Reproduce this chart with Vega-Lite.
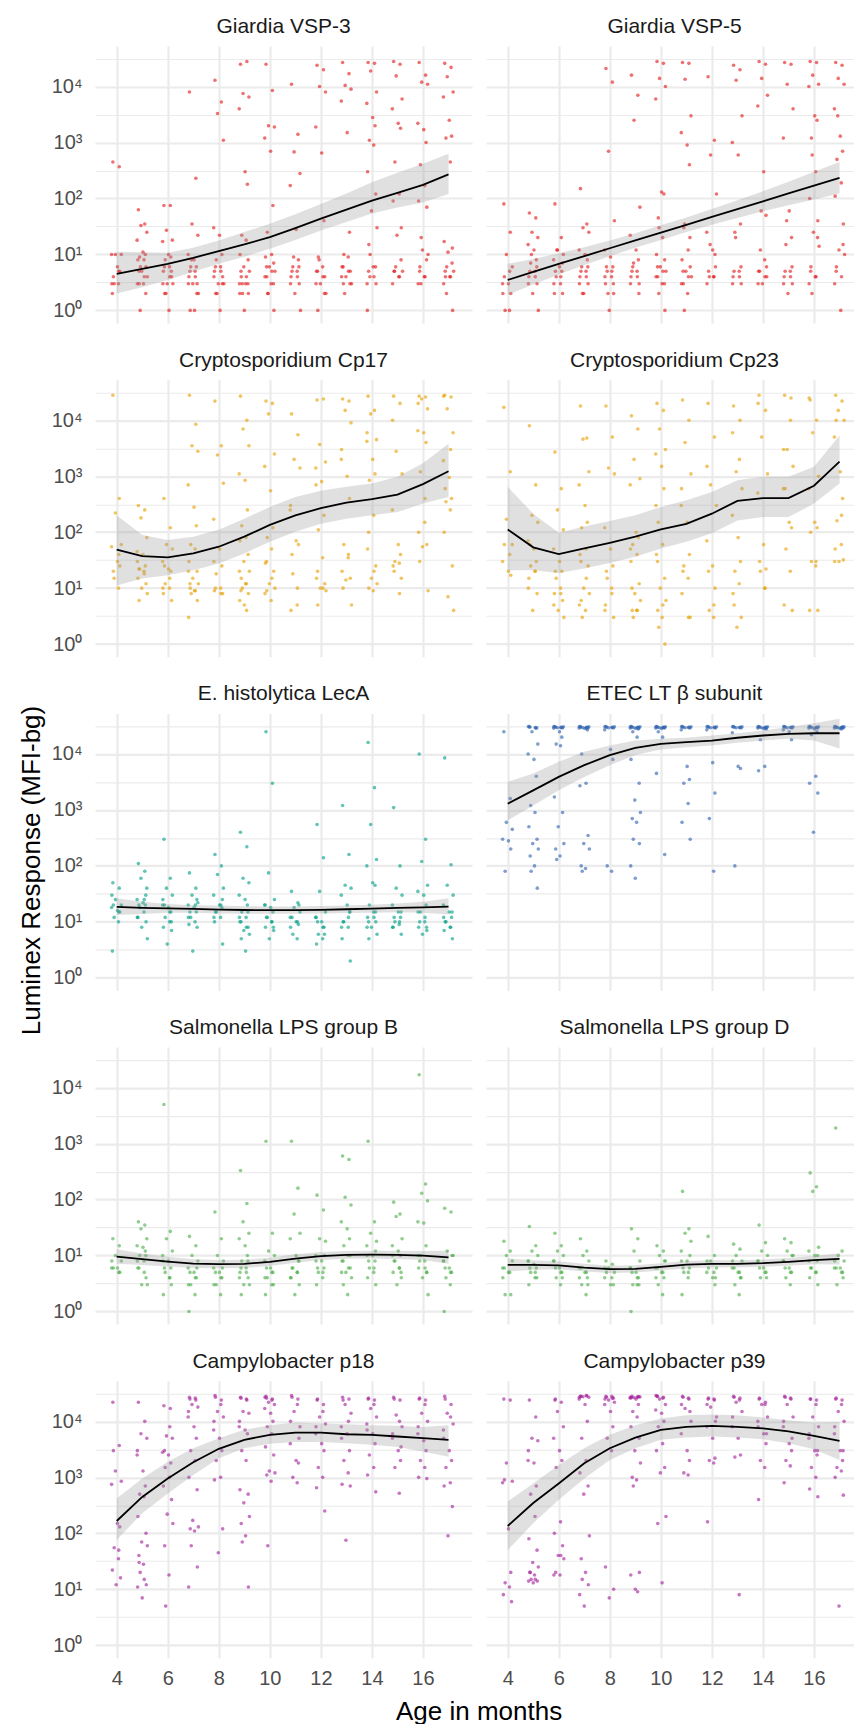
{
"$schema":"https://vega.github.io/schema/vega-lite/v6.json",
"background":"white",
"padding":{"left":19,"top":16,"right":0,"bottom":0},
"title":{"text":"Luminex Response (MFI-bg)","orient":"left","anchor":"middle","offset":6},
"vconcat":[{
"title":{"text":"Age in months","orient":"bottom","anchor":"middle","offset":11,"dx":22},
"data":{"values":[
{"k":1,"x":3.85,"y":450},{"k":1,"x":4.1,"y":370},{"k":1,"x":3.95,"y":10},{"k":1,"x":4.18,"y":10},{"k":1,"x":3.8,"y":10},{"k":1,"x":4.03,"y":6},{"k":1,"x":4.12,"y":5},{"k":1,"x":3.9,"y":3},{"k":1,"x":4.07,"y":3},{"k":1,"x":3.83,"y":2},
{"k":1,"x":4.85,"y":63},{"k":1,"x":5.1,"y":35},{"k":1,"x":4.95,"y":33},{"k":1,"x":5.18,"y":25},{"k":1,"x":4.8,"y":18},{"k":1,"x":5.03,"y":11},{"k":1,"x":5.12,"y":10},{"k":1,"x":4.9,"y":9},{"k":1,"x":5.07,"y":8},{"k":1,"x":4.83,"y":8},{"k":1,"x":5.15,"y":6},{"k":1,"x":4.98,"y":5},{"k":1,"x":5.2,"y":4},{"k":1,"x":4.88,"y":3},{"k":1,"x":5.05,"y":3},{"k":1,"x":4.92,"y":1},
{"k":1,"x":5.85,"y":75},{"k":1,"x":6.1,"y":75},{"k":1,"x":5.95,"y":27},{"k":1,"x":6.18,"y":18},{"k":1,"x":5.8,"y":17},{"k":1,"x":6.03,"y":10},{"k":1,"x":6.12,"y":9},{"k":1,"x":5.9,"y":8},{"k":1,"x":6.07,"y":6},{"k":1,"x":5.83,"y":5},{"k":1,"x":6.15,"y":4},{"k":1,"x":5.98,"y":3},{"k":1,"x":6.2,"y":3},{"k":1,"x":5.88,"y":2},{"k":1,"x":6.05,"y":1},
{"k":1,"x":6.85,"y":8000},{"k":1,"x":7.1,"y":230},{"k":1,"x":6.95,"y":35},{"k":1,"x":7.18,"y":22},{"k":1,"x":6.8,"y":10},{"k":1,"x":7.03,"y":8},{"k":1,"x":7.12,"y":6},{"k":1,"x":6.9,"y":6},{"k":1,"x":7.07,"y":5},{"k":1,"x":6.83,"y":4},{"k":1,"x":7.15,"y":3},{"k":1,"x":6.98,"y":3},{"k":1,"x":7.2,"y":2},{"k":1,"x":6.88,"y":1},{"k":1,"x":7.05,"y":1},
{"k":1,"x":7.85,"y":13000},{"k":1,"x":8.1,"y":5300},{"k":1,"x":7.95,"y":3300},{"k":1,"x":8.18,"y":1100},{"k":1,"x":7.8,"y":30},{"k":1,"x":8.03,"y":22},{"k":1,"x":8.12,"y":10},{"k":1,"x":7.9,"y":8},{"k":1,"x":8.07,"y":6},{"k":1,"x":7.83,"y":5},{"k":1,"x":8.15,"y":4},{"k":1,"x":7.98,"y":3},{"k":1,"x":8.2,"y":3},{"k":1,"x":7.88,"y":2},{"k":1,"x":8.05,"y":1},
{"k":1,"x":8.85,"y":25000},{"k":1,"x":9.1,"y":28000},{"k":1,"x":8.95,"y":7500},{"k":1,"x":9.18,"y":6500},{"k":1,"x":8.8,"y":4000},{"k":1,"x":9.03,"y":300},{"k":1,"x":9.12,"y":180},{"k":1,"x":8.9,"y":22},{"k":1,"x":9.07,"y":18},{"k":1,"x":8.83,"y":10},{"k":1,"x":9.15,"y":8},{"k":1,"x":8.98,"y":6},{"k":1,"x":9.2,"y":5},{"k":1,"x":8.88,"y":4},{"k":1,"x":9.05,"y":3},{"k":1,"x":8.92,"y":3},{"k":1,"x":9.16,"y":2},{"k":1,"x":8.82,"y":2},{"k":1,"x":9,"y":1},
{"k":1,"x":9.85,"y":25000},{"k":1,"x":10.1,"y":8500},{"k":1,"x":9.95,"y":2000},{"k":1,"x":10.18,"y":1900},{"k":1,"x":9.8,"y":1200},{"k":1,"x":10.03,"y":700},{"k":1,"x":10.12,"y":75},{"k":1,"x":9.9,"y":25},{"k":1,"x":10.07,"y":10},{"k":1,"x":9.83,"y":9},{"k":1,"x":10.15,"y":7},{"k":1,"x":9.98,"y":6},{"k":1,"x":10.2,"y":5},{"k":1,"x":9.88,"y":4},{"k":1,"x":10.05,"y":3},{"k":1,"x":9.92,"y":2},{"k":1,"x":10.16,"y":1},
{"k":1,"x":10.85,"y":11000},{"k":1,"x":11.1,"y":1400},{"k":1,"x":10.95,"y":680},{"k":1,"x":11.18,"y":280},{"k":1,"x":10.8,"y":170},{"k":1,"x":11.03,"y":28},{"k":1,"x":11.12,"y":8},{"k":1,"x":10.9,"y":6},{"k":1,"x":11.07,"y":5},{"k":1,"x":10.83,"y":4},{"k":1,"x":11.15,"y":3},{"k":1,"x":10.98,"y":2},{"k":1,"x":11.2,"y":1},
{"k":1,"x":11.85,"y":24000},{"k":1,"x":12.1,"y":20000},{"k":1,"x":11.95,"y":10000},{"k":1,"x":12.18,"y":8000},{"k":1,"x":11.8,"y":1900},{"k":1,"x":12.03,"y":650},{"k":1,"x":12.12,"y":40},{"k":1,"x":11.9,"y":9},{"k":1,"x":12.07,"y":6},{"k":1,"x":11.83,"y":5},{"k":1,"x":12.15,"y":4},{"k":1,"x":11.98,"y":3},{"k":1,"x":12.2,"y":2},{"k":1,"x":11.88,"y":1},
{"k":1,"x":12.85,"y":27000},{"k":1,"x":13.1,"y":17000},{"k":1,"x":12.95,"y":10500},{"k":1,"x":13.18,"y":9000},{"k":1,"x":12.8,"y":5500},{"k":1,"x":13.03,"y":1500},{"k":1,"x":13.12,"y":25},{"k":1,"x":12.9,"y":10},{"k":1,"x":13.07,"y":9},{"k":1,"x":12.83,"y":6},{"k":1,"x":13.15,"y":5},{"k":1,"x":12.98,"y":4},{"k":1,"x":13.2,"y":3},{"k":1,"x":12.88,"y":3},
{"k":1,"x":13.85,"y":27000},{"k":1,"x":14.1,"y":26000},{"k":1,"x":13.95,"y":19000},{"k":1,"x":14.18,"y":8000},{"k":1,"x":13.8,"y":5000},{"k":1,"x":14.03,"y":2800},{"k":1,"x":14.12,"y":2000},{"k":1,"x":13.9,"y":1100},{"k":1,"x":14.07,"y":900},{"k":1,"x":13.83,"y":300},{"k":1,"x":14.15,"y":120},{"k":1,"x":13.98,"y":60},{"k":1,"x":14.2,"y":30},{"k":1,"x":13.88,"y":15},{"k":1,"x":14.05,"y":6},{"k":1,"x":13.92,"y":4},{"k":1,"x":14.16,"y":3},{"k":1,"x":13.82,"y":1},
{"k":1,"x":14.85,"y":28000},{"k":1,"x":15.1,"y":25000},{"k":1,"x":14.95,"y":15500},{"k":1,"x":15.18,"y":6000},{"k":1,"x":14.8,"y":4000},{"k":1,"x":15.03,"y":2200},{"k":1,"x":15.12,"y":1800},{"k":1,"x":14.9,"y":450},{"k":1,"x":15.07,"y":120},{"k":1,"x":14.83,"y":90},{"k":1,"x":15.15,"y":30},{"k":1,"x":14.98,"y":22},{"k":1,"x":15.2,"y":5},{"k":1,"x":14.88,"y":5},{"k":1,"x":15.05,"y":4},
{"k":1,"x":15.85,"y":27000},{"k":1,"x":16.1,"y":16000},{"k":1,"x":15.95,"y":12000},{"k":1,"x":16.18,"y":11000},{"k":1,"x":15.8,"y":2200},{"k":1,"x":16.03,"y":1700},{"k":1,"x":16.12,"y":1000},{"k":1,"x":15.9,"y":400},{"k":1,"x":16.07,"y":170},{"k":1,"x":15.83,"y":90},{"k":1,"x":16.15,"y":70},{"k":1,"x":15.98,"y":12},{"k":1,"x":16.2,"y":10},{"k":1,"x":15.88,"y":6},{"k":1,"x":16.05,"y":4},{"k":1,"x":15.92,"y":3},
{"k":1,"x":16.85,"y":26000},{"k":1,"x":17.1,"y":22000},{"k":1,"x":16.95,"y":15000},{"k":1,"x":17.18,"y":8000},{"k":1,"x":16.8,"y":6500},{"k":1,"x":17.03,"y":2500},{"k":1,"x":17.12,"y":1300},{"k":1,"x":16.9,"y":1200},{"k":1,"x":17.07,"y":450},{"k":1,"x":16.83,"y":17},{"k":1,"x":17.15,"y":13},{"k":1,"x":16.98,"y":11},{"k":1,"x":17.2,"y":5},{"k":1,"x":16.88,"y":4},{"k":1,"x":17.05,"y":4},{"k":1,"x":16.92,"y":2},{"k":1,"x":17.16,"y":1},
{"k":1,"x":3.87,"y":4},{"k":1,"x":4.08,"y":5},{"k":1,"x":3.81,"y":3},
{"k":1,"x":4.87,"y":5},{"k":1,"x":5.08,"y":4},{"k":1,"x":4.81,"y":3},{"k":1,"x":5.14,"y":2},{"k":1,"x":4.93,"y":6},
{"k":1,"x":5.87,"y":6},{"k":1,"x":6.08,"y":4},{"k":1,"x":5.81,"y":3},{"k":1,"x":6.14,"y":5},{"k":1,"x":5.93,"y":2},
{"k":1,"x":6.87,"y":5},{"k":1,"x":7.08,"y":4},{"k":1,"x":6.81,"y":3},{"k":1,"x":7.14,"y":2},{"k":1,"x":6.93,"y":8},
{"k":1,"x":7.87,"y":6},{"k":1,"x":8.08,"y":5},{"k":1,"x":7.81,"y":4},{"k":1,"x":8.14,"y":3},{"k":1,"x":7.93,"y":2},
{"k":1,"x":8.87,"y":5},{"k":1,"x":9.08,"y":4},{"k":1,"x":8.81,"y":3},{"k":1,"x":9.14,"y":3},{"k":1,"x":8.93,"y":2},
{"k":1,"x":9.87,"y":6},{"k":1,"x":10.08,"y":5},{"k":1,"x":9.81,"y":4},{"k":1,"x":10.14,"y":3},{"k":1,"x":9.93,"y":2},
{"k":1,"x":10.87,"y":5},{"k":1,"x":11.08,"y":4},{"k":1,"x":10.81,"y":3},{"k":1,"x":11.14,"y":6},{"k":1,"x":10.93,"y":9},
{"k":1,"x":11.87,"y":5},{"k":1,"x":12.08,"y":4},{"k":1,"x":11.81,"y":3},{"k":1,"x":12.14,"y":2},{"k":1,"x":11.93,"y":8},
{"k":1,"x":12.87,"y":6},{"k":1,"x":13.08,"y":5},{"k":1,"x":12.81,"y":4},{"k":1,"x":13.14,"y":3},{"k":1,"x":12.93,"y":2},
{"k":1,"x":13.87,"y":5},{"k":1,"x":14.08,"y":4},{"k":1,"x":13.81,"y":3},{"k":1,"x":14.14,"y":6},{"k":1,"x":13.93,"y":10},
{"k":1,"x":14.87,"y":5},{"k":1,"x":15.08,"y":4},{"k":1,"x":14.81,"y":3},{"k":1,"x":15.14,"y":8},{"k":1,"x":14.93,"y":6},
{"k":1,"x":15.87,"y":5},{"k":1,"x":16.08,"y":4},{"k":1,"x":15.81,"y":3},{"k":1,"x":16.14,"y":8},{"k":1,"x":15.93,"y":20},
{"k":1,"x":16.87,"y":5},{"k":1,"x":17.08,"y":4},{"k":1,"x":16.81,"y":3},{"k":1,"x":17.14,"y":7},{"k":1,"x":16.93,"y":6},
{"k":2,"x":3.85,"y":80},{"k":2,"x":4.1,"y":25},{"k":2,"x":3.95,"y":10},{"k":2,"x":4.18,"y":6},{"k":2,"x":3.8,"y":3},{"k":2,"x":4.03,"y":3},{"k":2,"x":4.12,"y":2},{"k":2,"x":3.9,"y":1},{"k":2,"x":4.07,"y":1},
{"k":2,"x":4.85,"y":55},{"k":2,"x":5.1,"y":45},{"k":2,"x":4.95,"y":25},{"k":2,"x":5.18,"y":20},{"k":2,"x":4.8,"y":15},{"k":2,"x":5.03,"y":12},{"k":2,"x":5.12,"y":8},{"k":2,"x":4.9,"y":7},{"k":2,"x":5.07,"y":5},{"k":2,"x":4.83,"y":4},{"k":2,"x":5.15,"y":3},{"k":2,"x":4.98,"y":2},{"k":2,"x":5.2,"y":1},
{"k":2,"x":5.85,"y":80},{"k":2,"x":6.1,"y":20},{"k":2,"x":5.95,"y":12},{"k":2,"x":6.18,"y":10},{"k":2,"x":5.8,"y":8},{"k":2,"x":6.03,"y":6},{"k":2,"x":6.12,"y":5},{"k":2,"x":5.9,"y":4},{"k":2,"x":6.07,"y":3},{"k":2,"x":5.83,"y":2},{"k":2,"x":6.15,"y":2},
{"k":2,"x":6.85,"y":150},{"k":2,"x":7.1,"y":35},{"k":2,"x":6.95,"y":30},{"k":2,"x":7.18,"y":25},{"k":2,"x":6.8,"y":12},{"k":2,"x":7.03,"y":10},{"k":2,"x":7.12,"y":8},{"k":2,"x":6.9,"y":6},{"k":2,"x":7.07,"y":5},{"k":2,"x":6.83,"y":4},{"k":2,"x":7.15,"y":3},{"k":2,"x":6.98,"y":2},
{"k":2,"x":7.85,"y":21000},{"k":2,"x":8.1,"y":12000},{"k":2,"x":7.95,"y":700},{"k":2,"x":8.18,"y":40},{"k":2,"x":7.8,"y":12},{"k":2,"x":8.03,"y":9},{"k":2,"x":8.12,"y":6},{"k":2,"x":7.9,"y":5},{"k":2,"x":8.07,"y":4},{"k":2,"x":7.83,"y":3},{"k":2,"x":8.15,"y":2},{"k":2,"x":7.98,"y":1},
{"k":2,"x":8.85,"y":16000},{"k":2,"x":9.1,"y":7000},{"k":2,"x":8.95,"y":2500},{"k":2,"x":9.18,"y":70},{"k":2,"x":8.8,"y":22},{"k":2,"x":9.03,"y":12},{"k":2,"x":9.12,"y":8},{"k":2,"x":8.9,"y":6},{"k":2,"x":9.07,"y":5},{"k":2,"x":8.83,"y":4},{"k":2,"x":9.15,"y":3},
{"k":2,"x":9.85,"y":28000},{"k":2,"x":10.1,"y":26000},{"k":2,"x":9.95,"y":14000},{"k":2,"x":10.18,"y":10000},{"k":2,"x":9.8,"y":6000},{"k":2,"x":10.03,"y":130},{"k":2,"x":10.12,"y":120},{"k":2,"x":9.9,"y":45},{"k":2,"x":10.07,"y":20},{"k":2,"x":9.83,"y":10},{"k":2,"x":10.15,"y":8},{"k":2,"x":9.98,"y":6},{"k":2,"x":10.2,"y":5},{"k":2,"x":9.88,"y":4},{"k":2,"x":10.05,"y":3},{"k":2,"x":9.92,"y":2},{"k":2,"x":10.16,"y":1},
{"k":2,"x":10.85,"y":27000},{"k":2,"x":11.1,"y":26000},{"k":2,"x":10.95,"y":13500},{"k":2,"x":11.18,"y":3000},{"k":2,"x":10.8,"y":1500},{"k":2,"x":11.03,"y":900},{"k":2,"x":11.12,"y":400},{"k":2,"x":10.9,"y":30},{"k":2,"x":11.07,"y":12},{"k":2,"x":10.83,"y":8},{"k":2,"x":11.15,"y":6},{"k":2,"x":10.98,"y":5},{"k":2,"x":11.2,"y":4},{"k":2,"x":10.88,"y":3},{"k":2,"x":11.05,"y":2},{"k":2,"x":10.92,"y":1},
{"k":2,"x":11.85,"y":15000},{"k":2,"x":12.1,"y":1100},{"k":2,"x":11.95,"y":600},{"k":2,"x":12.18,"y":120},{"k":2,"x":11.8,"y":25},{"k":2,"x":12.03,"y":12},{"k":2,"x":12.12,"y":10},{"k":2,"x":11.9,"y":4},{"k":2,"x":12.07,"y":4},
{"k":2,"x":12.85,"y":24000},{"k":2,"x":13.1,"y":20000},{"k":2,"x":12.95,"y":13000},{"k":2,"x":13.18,"y":3000},{"k":2,"x":12.8,"y":1000},{"k":2,"x":13.03,"y":600},{"k":2,"x":13.12,"y":35},{"k":2,"x":12.9,"y":25},{"k":2,"x":13.07,"y":5},{"k":2,"x":12.83,"y":4},{"k":2,"x":13.15,"y":3},
{"k":2,"x":13.85,"y":28000},{"k":2,"x":14.1,"y":25000},{"k":2,"x":13.95,"y":14000},{"k":2,"x":14.18,"y":7000},{"k":2,"x":13.8,"y":4500},{"k":2,"x":14.03,"y":300},{"k":2,"x":14.12,"y":50},{"k":2,"x":13.9,"y":12},{"k":2,"x":14.07,"y":8},{"k":2,"x":13.83,"y":5},{"k":2,"x":14.15,"y":4},{"k":2,"x":13.98,"y":3},
{"k":2,"x":14.85,"y":27000},{"k":2,"x":15.1,"y":25000},{"k":2,"x":14.95,"y":11000},{"k":2,"x":15.18,"y":4000},{"k":2,"x":14.8,"y":1200},{"k":2,"x":15.03,"y":60},{"k":2,"x":15.12,"y":20},{"k":2,"x":14.9,"y":15},{"k":2,"x":15.07,"y":5},{"k":2,"x":14.83,"y":4},{"k":2,"x":15.15,"y":3},{"k":2,"x":14.98,"y":2},
{"k":2,"x":15.85,"y":28000},{"k":2,"x":16.1,"y":27000},{"k":2,"x":15.95,"y":16000},{"k":2,"x":16.18,"y":11000},{"k":2,"x":15.8,"y":10000},{"k":2,"x":16.03,"y":3000},{"k":2,"x":16.12,"y":2500},{"k":2,"x":15.9,"y":1200},{"k":2,"x":16.07,"y":300},{"k":2,"x":15.83,"y":100},{"k":2,"x":16.15,"y":40},{"k":2,"x":15.98,"y":25},{"k":2,"x":16.2,"y":14},{"k":2,"x":15.88,"y":6},{"k":2,"x":16.05,"y":4},{"k":2,"x":15.92,"y":2},
{"k":2,"x":16.85,"y":27000},{"k":2,"x":17.1,"y":24000},{"k":2,"x":16.95,"y":14000},{"k":2,"x":17.18,"y":11000},{"k":2,"x":16.8,"y":4000},{"k":2,"x":17.03,"y":1300},{"k":2,"x":17.12,"y":700},{"k":2,"x":16.9,"y":500},{"k":2,"x":17.07,"y":190},{"k":2,"x":16.83,"y":110},{"k":2,"x":17.15,"y":35},{"k":2,"x":16.98,"y":12},{"k":2,"x":17.2,"y":10},{"k":2,"x":16.88,"y":6},{"k":2,"x":17.05,"y":1},
{"k":2,"x":3.87,"y":4},{"k":2,"x":4.08,"y":5},{"k":2,"x":3.81,"y":2},
{"k":2,"x":4.87,"y":5},{"k":2,"x":5.08,"y":4},{"k":2,"x":4.81,"y":3},{"k":2,"x":5.14,"y":6},{"k":2,"x":4.93,"y":10},
{"k":2,"x":5.87,"y":5},{"k":2,"x":6.08,"y":4},{"k":2,"x":5.81,"y":3},{"k":2,"x":6.14,"y":7},{"k":2,"x":5.93,"y":12},
{"k":2,"x":6.87,"y":5},{"k":2,"x":7.08,"y":4},{"k":2,"x":6.81,"y":3},{"k":2,"x":7.14,"y":6},{"k":2,"x":6.93,"y":2},
{"k":2,"x":7.87,"y":6},{"k":2,"x":8.08,"y":5},{"k":2,"x":7.81,"y":4},{"k":2,"x":8.14,"y":3},{"k":2,"x":7.93,"y":2},
{"k":2,"x":8.87,"y":5},{"k":2,"x":9.08,"y":4},{"k":2,"x":8.81,"y":3},{"k":2,"x":9.14,"y":2},{"k":2,"x":8.93,"y":7},
{"k":2,"x":9.87,"y":6},{"k":2,"x":10.08,"y":5},{"k":2,"x":9.81,"y":4},{"k":2,"x":10.14,"y":3},{"k":2,"x":9.93,"y":30},
{"k":2,"x":10.87,"y":5},{"k":2,"x":11.08,"y":4},{"k":2,"x":10.81,"y":3},{"k":2,"x":11.14,"y":20},{"k":2,"x":10.93,"y":35},
{"k":2,"x":11.87,"y":5},{"k":2,"x":12.08,"y":4},{"k":2,"x":11.81,"y":3},{"k":2,"x":12.14,"y":6},{"k":2,"x":11.93,"y":15},
{"k":2,"x":12.87,"y":5},{"k":2,"x":13.08,"y":4},{"k":2,"x":12.81,"y":3},{"k":2,"x":13.14,"y":6},{"k":2,"x":12.93,"y":20},
{"k":2,"x":13.87,"y":5},{"k":2,"x":14.08,"y":4},{"k":2,"x":13.81,"y":3},{"k":2,"x":14.14,"y":6},{"k":2,"x":13.93,"y":60},
{"k":2,"x":14.87,"y":5},{"k":2,"x":15.08,"y":4},{"k":2,"x":14.81,"y":3},{"k":2,"x":15.14,"y":6},{"k":2,"x":14.93,"y":40},
{"k":2,"x":15.87,"y":5},{"k":2,"x":16.08,"y":4},{"k":2,"x":15.81,"y":3},{"k":2,"x":16.14,"y":20},{"k":2,"x":15.93,"y":600},
{"k":2,"x":16.87,"y":5},{"k":2,"x":17.08,"y":4},{"k":2,"x":16.81,"y":3},{"k":2,"x":17.14,"y":15},{"k":2,"x":16.93,"y":3000},
{"k":3,"x":3.85,"y":28000},{"k":3,"x":4.1,"y":400},{"k":3,"x":3.95,"y":220},{"k":3,"x":4.18,"y":60},{"k":3,"x":3.8,"y":55},{"k":3,"x":4.03,"y":30},{"k":3,"x":4.12,"y":25},{"k":3,"x":3.9,"y":15},{"k":3,"x":4.07,"y":10},
{"k":3,"x":4.85,"y":300},{"k":3,"x":5.1,"y":250},{"k":3,"x":4.95,"y":180},{"k":3,"x":5.18,"y":80},{"k":3,"x":4.8,"y":45},{"k":3,"x":5.03,"y":40},{"k":3,"x":5.12,"y":25},{"k":3,"x":4.9,"y":22},{"k":3,"x":5.07,"y":20},{"k":3,"x":4.83,"y":15},{"k":3,"x":5.15,"y":12},{"k":3,"x":4.98,"y":10},{"k":3,"x":5.2,"y":8},{"k":3,"x":4.88,"y":6},
{"k":3,"x":5.85,"y":400},{"k":3,"x":6.1,"y":120},{"k":3,"x":5.95,"y":60},{"k":3,"x":6.18,"y":50},{"k":3,"x":5.8,"y":30},{"k":3,"x":6.03,"y":22},{"k":3,"x":6.12,"y":20},{"k":3,"x":5.9,"y":12},{"k":3,"x":6.07,"y":10},{"k":3,"x":5.83,"y":8},{"k":3,"x":6.15,"y":6},
{"k":3,"x":6.85,"y":28000},{"k":3,"x":7.1,"y":8500},{"k":3,"x":6.95,"y":3500},{"k":3,"x":7.18,"y":2800},{"k":3,"x":6.8,"y":700},{"k":3,"x":7.03,"y":280},{"k":3,"x":7.12,"y":130},{"k":3,"x":6.9,"y":60},{"k":3,"x":7.07,"y":50},{"k":3,"x":6.83,"y":30},{"k":3,"x":7.15,"y":20},{"k":3,"x":6.98,"y":15},{"k":3,"x":7.2,"y":12},{"k":3,"x":6.88,"y":10},{"k":3,"x":7.05,"y":9},{"k":3,"x":6.92,"y":8},{"k":3,"x":7.16,"y":6},{"k":3,"x":6.82,"y":3},
{"k":3,"x":7.85,"y":22000},{"k":3,"x":8.1,"y":3500},{"k":3,"x":7.95,"y":2400},{"k":3,"x":8.18,"y":750},{"k":3,"x":7.8,"y":170},{"k":3,"x":8.03,"y":50},{"k":3,"x":8.12,"y":25},{"k":3,"x":7.9,"y":18},{"k":3,"x":8.07,"y":10},{"k":3,"x":7.83,"y":9},{"k":3,"x":8.15,"y":8},
{"k":3,"x":8.85,"y":27000},{"k":3,"x":9.1,"y":10000},{"k":3,"x":8.95,"y":7000},{"k":3,"x":9.18,"y":3500},{"k":3,"x":8.8,"y":1100},{"k":3,"x":9.03,"y":850},{"k":3,"x":9.12,"y":250},{"k":3,"x":8.9,"y":130},{"k":3,"x":9.07,"y":80},{"k":3,"x":8.83,"y":70},{"k":3,"x":9.15,"y":40},{"k":3,"x":8.98,"y":30},{"k":3,"x":9.2,"y":20},{"k":3,"x":8.88,"y":15},{"k":3,"x":9.05,"y":12},{"k":3,"x":8.92,"y":10},{"k":3,"x":9.16,"y":8},{"k":3,"x":8.82,"y":6},{"k":3,"x":9,"y":5},{"k":3,"x":9.09,"y":4},
{"k":3,"x":9.85,"y":22000},{"k":3,"x":10.1,"y":20000},{"k":3,"x":9.95,"y":13000},{"k":3,"x":10.18,"y":2500},{"k":3,"x":9.8,"y":1500},{"k":3,"x":10.03,"y":550},{"k":3,"x":10.12,"y":120},{"k":3,"x":9.9,"y":80},{"k":3,"x":10.07,"y":50},{"k":3,"x":9.83,"y":28},{"k":3,"x":10.15,"y":20},{"k":3,"x":9.98,"y":12},{"k":3,"x":10.2,"y":10},{"k":3,"x":9.88,"y":9},{"k":3,"x":10.05,"y":6},
{"k":3,"x":10.85,"y":13000},{"k":3,"x":11.1,"y":5500},{"k":3,"x":10.95,"y":2000},{"k":3,"x":11.18,"y":1400},{"k":3,"x":10.8,"y":250},{"k":3,"x":11.03,"y":70},{"k":3,"x":11.12,"y":60},{"k":3,"x":10.9,"y":18},{"k":3,"x":11.07,"y":5},{"k":3,"x":10.83,"y":4},
{"k":3,"x":11.85,"y":23000},{"k":3,"x":12.1,"y":24000},{"k":3,"x":11.95,"y":3700},{"k":3,"x":12.18,"y":1800},{"k":3,"x":11.8,"y":1400},{"k":3,"x":12.03,"y":800},{"k":3,"x":12.12,"y":200},{"k":3,"x":11.9,"y":110},{"k":3,"x":12.07,"y":35},{"k":3,"x":11.83,"y":15},{"k":3,"x":12.15,"y":12},{"k":3,"x":11.98,"y":10},{"k":3,"x":12.2,"y":9},{"k":3,"x":11.88,"y":5},
{"k":3,"x":12.85,"y":24000},{"k":3,"x":13.1,"y":22000},{"k":3,"x":12.95,"y":15000},{"k":3,"x":13.18,"y":9000},{"k":3,"x":12.8,"y":2000},{"k":3,"x":13.03,"y":1000},{"k":3,"x":13.12,"y":400},{"k":3,"x":12.9,"y":60},{"k":3,"x":13.07,"y":35},{"k":3,"x":12.83,"y":20},{"k":3,"x":13.15,"y":15},{"k":3,"x":12.98,"y":14},{"k":3,"x":13.2,"y":5},
{"k":3,"x":13.85,"y":27000},{"k":3,"x":14.1,"y":15000},{"k":3,"x":13.95,"y":13000},{"k":3,"x":14.18,"y":4500},{"k":3,"x":13.8,"y":4200},{"k":3,"x":14.03,"y":2000},{"k":3,"x":14.12,"y":1100},{"k":3,"x":13.9,"y":850},{"k":3,"x":14.07,"y":200},{"k":3,"x":13.83,"y":50},{"k":3,"x":14.15,"y":25},{"k":3,"x":13.98,"y":15},{"k":3,"x":14.2,"y":12},{"k":3,"x":13.88,"y":10},{"k":3,"x":14.05,"y":9},
{"k":3,"x":14.85,"y":27000},{"k":3,"x":15.1,"y":20000},{"k":3,"x":14.95,"y":2800},{"k":3,"x":15.18,"y":1100},{"k":3,"x":14.8,"y":250},{"k":3,"x":15.03,"y":60},{"k":3,"x":15.12,"y":40},{"k":3,"x":14.9,"y":30},{"k":3,"x":15.07,"y":28},{"k":3,"x":14.83,"y":25},{"k":3,"x":15.15,"y":15},
{"k":3,"x":15.85,"y":27000},{"k":3,"x":16.1,"y":26000},{"k":3,"x":15.95,"y":24000},{"k":3,"x":16.18,"y":16000},{"k":3,"x":15.8,"y":6500},{"k":3,"x":16.03,"y":6000},{"k":3,"x":16.12,"y":4000},{"k":3,"x":15.9,"y":1200},{"k":3,"x":16.07,"y":150},{"k":3,"x":15.83,"y":100},{"k":3,"x":16.15,"y":60},{"k":3,"x":15.98,"y":55},{"k":3,"x":16.2,"y":9},
{"k":3,"x":16.85,"y":28000},{"k":3,"x":17.1,"y":26000},{"k":3,"x":16.95,"y":16000},{"k":3,"x":17.18,"y":6000},{"k":3,"x":16.8,"y":1900},{"k":3,"x":17.03,"y":950},{"k":3,"x":17.12,"y":400},{"k":3,"x":16.9,"y":350},{"k":3,"x":17.07,"y":250},{"k":3,"x":16.83,"y":100},{"k":3,"x":17.15,"y":25},{"k":3,"x":16.98,"y":7},{"k":3,"x":17.2,"y":4},
{"k":3,"x":3.87,"y":20},{"k":3,"x":4.08,"y":40},
{"k":3,"x":4.87,"y":22},{"k":3,"x":5.08,"y":18},{"k":3,"x":4.81,"y":30},
{"k":3,"x":5.87,"y":25},{"k":3,"x":6.08,"y":15},{"k":3,"x":5.81,"y":10},
{"k":3,"x":6.87,"y":12},{"k":3,"x":7.08,"y":9},{"k":3,"x":6.81,"y":20},
{"k":3,"x":7.87,"y":10},{"k":3,"x":8.08,"y":8},{"k":3,"x":7.81,"y":30},
{"k":3,"x":8.87,"y":9},{"k":3,"x":9.08,"y":12},{"k":3,"x":8.81,"y":20},
{"k":3,"x":9.87,"y":30},{"k":3,"x":10.08,"y":15},{"k":3,"x":9.81,"y":8},
{"k":3,"x":10.87,"y":40},{"k":3,"x":11.08,"y":10},{"k":3,"x":10.81,"y":300},
{"k":3,"x":11.87,"y":20},{"k":3,"x":12.08,"y":10},{"k":3,"x":11.81,"y":700},
{"k":3,"x":12.87,"y":10},{"k":3,"x":13.08,"y":40},{"k":3,"x":12.81,"y":3000},
{"k":3,"x":13.87,"y":100},{"k":3,"x":14.08,"y":20},{"k":3,"x":13.81,"y":6000},
{"k":3,"x":14.87,"y":20},{"k":3,"x":15.08,"y":8},{"k":3,"x":14.81,"y":10000},
{"k":3,"x":15.87,"y":30},{"k":3,"x":16.08,"y":400},{"k":3,"x":15.81,"y":20000},
{"k":3,"x":16.87,"y":600},{"k":3,"x":17.08,"y":3000},{"k":3,"x":16.81,"y":27000},
{"k":4,"x":3.85,"y":17000},{"k":4,"x":4.1,"y":1200},{"k":4,"x":3.95,"y":170},{"k":4,"x":4.18,"y":60},{"k":4,"x":3.8,"y":30},{"k":4,"x":4.03,"y":20},{"k":4,"x":4.12,"y":17},
{"k":4,"x":4.85,"y":8000},{"k":4,"x":5.1,"y":700},{"k":4,"x":4.95,"y":200},{"k":4,"x":5.18,"y":150},{"k":4,"x":4.8,"y":70},{"k":4,"x":5.03,"y":50},{"k":4,"x":5.12,"y":30},{"k":4,"x":4.9,"y":25},{"k":4,"x":5.07,"y":20},{"k":4,"x":4.83,"y":15},{"k":4,"x":5.15,"y":8},{"k":4,"x":4.98,"y":4},
{"k":4,"x":5.85,"y":2700},{"k":4,"x":6.1,"y":600},{"k":4,"x":5.95,"y":250},{"k":4,"x":6.18,"y":110},{"k":4,"x":5.8,"y":50},{"k":4,"x":6.03,"y":30},{"k":4,"x":6.12,"y":20},{"k":4,"x":5.9,"y":15},{"k":4,"x":6.07,"y":10},{"k":4,"x":5.83,"y":8},{"k":4,"x":6.15,"y":6},{"k":4,"x":5.98,"y":4},{"k":4,"x":6.2,"y":3},
{"k":4,"x":6.85,"y":18000},{"k":4,"x":7.1,"y":4800},{"k":4,"x":6.95,"y":4600},{"k":4,"x":7.18,"y":1200},{"k":4,"x":6.8,"y":700},{"k":4,"x":7.03,"y":300},{"k":4,"x":7.12,"y":150},{"k":4,"x":6.9,"y":120},{"k":4,"x":7.07,"y":50},{"k":4,"x":6.83,"y":40},{"k":4,"x":7.15,"y":25},{"k":4,"x":6.98,"y":10},{"k":4,"x":7.2,"y":8},{"k":4,"x":6.88,"y":6},{"k":4,"x":7.05,"y":4},{"k":4,"x":6.92,"y":3},
{"k":4,"x":7.85,"y":18000},{"k":4,"x":8.1,"y":5000},{"k":4,"x":7.95,"y":1400},{"k":4,"x":8.18,"y":1100},{"k":4,"x":7.8,"y":120},{"k":4,"x":8.03,"y":50},{"k":4,"x":8.12,"y":25},{"k":4,"x":7.9,"y":15},{"k":4,"x":8.07,"y":10},{"k":4,"x":7.83,"y":5},{"k":4,"x":8.15,"y":3},
{"k":4,"x":8.85,"y":12000},{"k":4,"x":9.1,"y":7000},{"k":4,"x":8.95,"y":2000},{"k":4,"x":9.18,"y":900},{"k":4,"x":8.8,"y":700},{"k":4,"x":9.03,"y":100},{"k":4,"x":9.12,"y":80},{"k":4,"x":8.9,"y":60},{"k":4,"x":9.07,"y":40},{"k":4,"x":8.83,"y":30},{"k":4,"x":9.15,"y":12},{"k":4,"x":8.98,"y":8},{"k":4,"x":9.2,"y":6},{"k":4,"x":8.88,"y":4},{"k":4,"x":9.05,"y":4},{"k":4,"x":8.92,"y":3},
{"k":4,"x":9.85,"y":20000},{"k":4,"x":10.1,"y":15000},{"k":4,"x":9.95,"y":7000},{"k":4,"x":10.18,"y":3000},{"k":4,"x":9.8,"y":2500},{"k":4,"x":10.03,"y":1500},{"k":4,"x":10.12,"y":600},{"k":4,"x":9.9,"y":150},{"k":4,"x":10.07,"y":60},{"k":4,"x":9.83,"y":40},{"k":4,"x":10.15,"y":15},{"k":4,"x":9.98,"y":10},{"k":4,"x":10.2,"y":6},{"k":4,"x":9.88,"y":4},{"k":4,"x":10.05,"y":3},{"k":4,"x":9.92,"y":2},{"k":4,"x":10.16,"y":1},
{"k":4,"x":10.85,"y":23000},{"k":4,"x":11.1,"y":10000},{"k":4,"x":10.95,"y":4000},{"k":4,"x":11.18,"y":1100},{"k":4,"x":10.8,"y":300},{"k":4,"x":11.03,"y":150},{"k":4,"x":11.12,"y":40},{"k":4,"x":10.9,"y":25},{"k":4,"x":11.07,"y":15},{"k":4,"x":10.83,"y":8},{"k":4,"x":11.15,"y":3},
{"k":4,"x":11.85,"y":20000},{"k":4,"x":12.1,"y":5000},{"k":4,"x":11.95,"y":700},{"k":4,"x":12.18,"y":300},{"k":4,"x":11.8,"y":70},{"k":4,"x":12.03,"y":25},{"k":4,"x":12.12,"y":10},{"k":4,"x":11.9,"y":4},{"k":4,"x":12.07,"y":3},
{"k":4,"x":12.85,"y":18000},{"k":4,"x":13.1,"y":10000},{"k":4,"x":12.95,"y":1200},{"k":4,"x":13.18,"y":600},{"k":4,"x":12.8,"y":200},{"k":4,"x":13.03,"y":80},{"k":4,"x":13.12,"y":30},{"k":4,"x":12.9,"y":20},{"k":4,"x":13.07,"y":12},{"k":4,"x":12.83,"y":8},{"k":4,"x":13.15,"y":3},{"k":4,"x":12.98,"y":2},
{"k":4,"x":13.85,"y":28000},{"k":4,"x":14.1,"y":15000},{"k":4,"x":13.95,"y":5000},{"k":4,"x":14.18,"y":1100},{"k":4,"x":13.8,"y":500},{"k":4,"x":14.03,"y":60},{"k":4,"x":14.12,"y":22},{"k":4,"x":13.9,"y":20},{"k":4,"x":14.07,"y":10},
{"k":4,"x":14.85,"y":28000},{"k":4,"x":15.1,"y":25000},{"k":4,"x":14.95,"y":3000},{"k":4,"x":15.18,"y":1500},{"k":4,"x":14.8,"y":600},{"k":4,"x":15.03,"y":150},{"k":4,"x":15.12,"y":120},{"k":4,"x":14.9,"y":50},{"k":4,"x":15.07,"y":20},{"k":4,"x":14.83,"y":5},{"k":4,"x":15.15,"y":4},
{"k":4,"x":15.85,"y":23000},{"k":4,"x":16.1,"y":10000},{"k":4,"x":15.95,"y":6000},{"k":4,"x":16.18,"y":1000},{"k":4,"x":15.8,"y":600},{"k":4,"x":16.03,"y":150},{"k":4,"x":16.12,"y":120},{"k":4,"x":15.9,"y":30},{"k":4,"x":16.07,"y":25},{"k":4,"x":15.83,"y":4},{"k":4,"x":16.15,"y":4},
{"k":4,"x":16.85,"y":28000},{"k":4,"x":17.1,"y":22000},{"k":4,"x":16.95,"y":15000},{"k":4,"x":17.18,"y":10000},{"k":4,"x":16.8,"y":5000},{"k":4,"x":17.03,"y":1200},{"k":4,"x":17.12,"y":400},{"k":4,"x":16.9,"y":160},{"k":4,"x":17.07,"y":60},{"k":4,"x":16.83,"y":50},{"k":4,"x":17.15,"y":32},{"k":4,"x":16.98,"y":30},
{"k":4,"x":3.87,"y":60},{"k":4,"x":4.08,"y":40},
{"k":4,"x":4.87,"y":60},{"k":4,"x":5.08,"y":20},{"k":4,"x":4.81,"y":10},
{"k":4,"x":5.87,"y":20},{"k":4,"x":6.08,"y":8},{"k":4,"x":5.81,"y":5},
{"k":4,"x":6.87,"y":30},{"k":4,"x":7.08,"y":15},{"k":4,"x":6.81,"y":5},
{"k":4,"x":7.87,"y":20},{"k":4,"x":8.08,"y":8},{"k":4,"x":7.81,"y":4},
{"k":4,"x":8.87,"y":10},{"k":4,"x":9.08,"y":4},{"k":4,"x":8.81,"y":50},
{"k":4,"x":9.87,"y":30},{"k":4,"x":10.08,"y":5},{"k":4,"x":9.81,"y":300},
{"k":4,"x":10.87,"y":20},{"k":4,"x":11.08,"y":3},{"k":4,"x":10.81,"y":600},
{"k":4,"x":11.87,"y":20},{"k":4,"x":12.08,"y":5},{"k":4,"x":11.81,"y":1500},
{"k":4,"x":12.87,"y":5},{"k":4,"x":13.08,"y":2000},{"k":4,"x":12.81,"y":6000},
{"k":4,"x":13.87,"y":30},{"k":4,"x":14.08,"y":10},{"k":4,"x":13.81,"y":20000},
{"k":4,"x":14.87,"y":600},{"k":4,"x":15.08,"y":10000},{"k":4,"x":14.81,"y":3000},
{"k":4,"x":15.87,"y":100},{"k":4,"x":16.08,"y":30},{"k":4,"x":15.81,"y":25000},
{"k":4,"x":16.87,"y":10000},{"k":4,"x":17.08,"y":200},{"k":4,"x":16.81,"y":30},
{"k":5,"x":3.85,"y":50},{"k":5,"x":4.1,"y":40},{"k":5,"x":3.95,"y":25},{"k":5,"x":4.18,"y":20},{"k":5,"x":3.8,"y":18},{"k":5,"x":4.03,"y":16},{"k":5,"x":4.12,"y":15},{"k":5,"x":3.9,"y":12},{"k":5,"x":4.07,"y":10},{"k":5,"x":3.83,"y":3},
{"k":5,"x":4.85,"y":110},{"k":5,"x":5.1,"y":80},{"k":5,"x":4.95,"y":60},{"k":5,"x":5.18,"y":40},{"k":5,"x":4.8,"y":25},{"k":5,"x":5.03,"y":22},{"k":5,"x":5.12,"y":20},{"k":5,"x":4.9,"y":18},{"k":5,"x":5.07,"y":15},{"k":5,"x":4.83,"y":12},{"k":5,"x":5.15,"y":10},{"k":5,"x":4.98,"y":8},{"k":5,"x":5.2,"y":5},
{"k":5,"x":5.85,"y":300},{"k":5,"x":6.1,"y":60},{"k":5,"x":5.95,"y":40},{"k":5,"x":6.18,"y":30},{"k":5,"x":5.8,"y":20},{"k":5,"x":6.03,"y":18},{"k":5,"x":6.12,"y":15},{"k":5,"x":5.9,"y":12},{"k":5,"x":6.07,"y":10},{"k":5,"x":5.83,"y":8},{"k":5,"x":6.15,"y":7},{"k":5,"x":5.98,"y":4},
{"k":5,"x":6.85,"y":75},{"k":5,"x":7.1,"y":40},{"k":5,"x":6.95,"y":30},{"k":5,"x":7.18,"y":22},{"k":5,"x":6.8,"y":20},{"k":5,"x":7.03,"y":18},{"k":5,"x":7.12,"y":15},{"k":5,"x":6.9,"y":12},{"k":5,"x":7.07,"y":10},{"k":5,"x":6.83,"y":9},{"k":5,"x":7.15,"y":8},{"k":5,"x":6.98,"y":3},
{"k":5,"x":7.85,"y":160},{"k":5,"x":8.1,"y":100},{"k":5,"x":7.95,"y":70},{"k":5,"x":8.18,"y":40},{"k":5,"x":7.8,"y":30},{"k":5,"x":8.03,"y":20},{"k":5,"x":8.12,"y":18},{"k":5,"x":7.9,"y":15},{"k":5,"x":8.07,"y":12},{"k":5,"x":7.83,"y":10},{"k":5,"x":8.15,"y":4},
{"k":5,"x":8.85,"y":400},{"k":5,"x":9.1,"y":220},{"k":5,"x":8.95,"y":60},{"k":5,"x":9.18,"y":50},{"k":5,"x":8.8,"y":30},{"k":5,"x":9.03,"y":25},{"k":5,"x":9.12,"y":20},{"k":5,"x":8.9,"y":15},{"k":5,"x":9.07,"y":12},{"k":5,"x":8.83,"y":10},{"k":5,"x":9.15,"y":8},{"k":5,"x":8.98,"y":7},{"k":5,"x":9.2,"y":6},{"k":5,"x":8.88,"y":5},{"k":5,"x":9.05,"y":3},
{"k":5,"x":9.85,"y":25000},{"k":5,"x":10.1,"y":3000},{"k":5,"x":9.95,"y":75},{"k":5,"x":10.18,"y":25},{"k":5,"x":9.8,"y":20},{"k":5,"x":10.03,"y":18},{"k":5,"x":10.12,"y":15},{"k":5,"x":9.9,"y":12},{"k":5,"x":10.07,"y":10},{"k":5,"x":9.83,"y":8},{"k":5,"x":10.15,"y":7},{"k":5,"x":9.98,"y":5},
{"k":5,"x":10.85,"y":35},{"k":5,"x":11.1,"y":22},{"k":5,"x":10.95,"y":18},{"k":5,"x":11.18,"y":15},{"k":5,"x":10.8,"y":12},{"k":5,"x":11.03,"y":10},{"k":5,"x":11.12,"y":9},{"k":5,"x":10.9,"y":6},{"k":5,"x":11.07,"y":5},
{"k":5,"x":11.85,"y":550},{"k":5,"x":12.1,"y":140},{"k":5,"x":11.95,"y":35},{"k":5,"x":12.18,"y":15},{"k":5,"x":11.8,"y":12},{"k":5,"x":12.03,"y":10},{"k":5,"x":12.12,"y":8},{"k":5,"x":11.9,"y":6},{"k":5,"x":12.07,"y":5},{"k":5,"x":11.83,"y":4},
{"k":5,"x":12.85,"y":1200},{"k":5,"x":13.1,"y":160},{"k":5,"x":12.95,"y":45},{"k":5,"x":13.18,"y":40},{"k":5,"x":12.8,"y":30},{"k":5,"x":13.03,"y":20},{"k":5,"x":13.12,"y":15},{"k":5,"x":12.9,"y":10},{"k":5,"x":13.07,"y":8},{"k":5,"x":12.83,"y":5},{"k":5,"x":13.15,"y":2},
{"k":5,"x":13.85,"y":16000},{"k":5,"x":14.1,"y":2500},{"k":5,"x":13.95,"y":550},{"k":5,"x":14.18,"y":130},{"k":5,"x":13.8,"y":100},{"k":5,"x":14.03,"y":50},{"k":5,"x":14.12,"y":45},{"k":5,"x":13.9,"y":20},{"k":5,"x":14.07,"y":15},{"k":5,"x":13.83,"y":12},{"k":5,"x":14.15,"y":10},{"k":5,"x":13.98,"y":8},{"k":5,"x":14.2,"y":6},{"k":5,"x":13.88,"y":5},
{"k":5,"x":14.85,"y":1100},{"k":5,"x":15.1,"y":100},{"k":5,"x":14.95,"y":40},{"k":5,"x":15.18,"y":30},{"k":5,"x":14.8,"y":20},{"k":5,"x":15.03,"y":15},{"k":5,"x":15.12,"y":12},{"k":5,"x":14.9,"y":10},{"k":5,"x":15.07,"y":9},{"k":5,"x":14.83,"y":8},{"k":5,"x":15.15,"y":6},
{"k":5,"x":15.85,"y":10000},{"k":5,"x":16.1,"y":300},{"k":5,"x":15.95,"y":120},{"k":5,"x":16.18,"y":45},{"k":5,"x":15.8,"y":35},{"k":5,"x":16.03,"y":30},{"k":5,"x":16.12,"y":20},{"k":5,"x":15.9,"y":15},{"k":5,"x":16.07,"y":10},{"k":5,"x":15.83,"y":8},{"k":5,"x":16.15,"y":7},{"k":5,"x":15.98,"y":6},
{"k":5,"x":16.85,"y":8500},{"k":5,"x":17.1,"y":105},{"k":5,"x":16.95,"y":45},{"k":5,"x":17.18,"y":30},{"k":5,"x":16.8,"y":20},{"k":5,"x":17.03,"y":15},{"k":5,"x":17.12,"y":12},{"k":5,"x":16.9,"y":10},{"k":5,"x":17.07,"y":8},{"k":5,"x":16.83,"y":7},{"k":5,"x":17.15,"y":5},
{"k":5,"x":3.87,"y":20},{"k":5,"x":4.08,"y":15},{"k":5,"x":3.81,"y":30},
{"k":5,"x":4.87,"y":20},{"k":5,"x":5.08,"y":25},{"k":5,"x":4.81,"y":12},{"k":5,"x":5.14,"y":30},
{"k":5,"x":5.87,"y":20},{"k":5,"x":6.08,"y":15},{"k":5,"x":5.81,"y":25},{"k":5,"x":6.14,"y":10},
{"k":5,"x":6.87,"y":15},{"k":5,"x":7.08,"y":20},{"k":5,"x":6.81,"y":12},{"k":5,"x":7.14,"y":25},
{"k":5,"x":7.87,"y":15},{"k":5,"x":8.08,"y":20},{"k":5,"x":7.81,"y":12},{"k":5,"x":8.14,"y":25},
{"k":5,"x":8.87,"y":10},{"k":5,"x":9.08,"y":8},{"k":5,"x":8.81,"y":12},{"k":5,"x":9.14,"y":15},
{"k":5,"x":9.87,"y":12},{"k":5,"x":10.08,"y":10},{"k":5,"x":9.81,"y":20},{"k":5,"x":10.14,"y":8},
{"k":5,"x":10.87,"y":12},{"k":5,"x":11.08,"y":10},{"k":5,"x":10.81,"y":8},{"k":5,"x":11.14,"y":20},
{"k":5,"x":11.87,"y":10},{"k":5,"x":12.08,"y":8},{"k":5,"x":11.81,"y":12},{"k":5,"x":12.14,"y":6},
{"k":5,"x":12.87,"y":10},{"k":5,"x":13.08,"y":12},{"k":5,"x":12.81,"y":8},{"k":5,"x":13.14,"y":15},
{"k":5,"x":13.87,"y":10},{"k":5,"x":14.08,"y":12},{"k":5,"x":13.81,"y":8},{"k":5,"x":14.14,"y":15},
{"k":5,"x":14.87,"y":12},{"k":5,"x":15.08,"y":10},{"k":5,"x":14.81,"y":8},{"k":5,"x":15.14,"y":15},
{"k":5,"x":15.87,"y":10},{"k":5,"x":16.08,"y":12},{"k":5,"x":15.81,"y":15},{"k":5,"x":16.14,"y":8},
{"k":5,"x":16.87,"y":10},{"k":5,"x":17.08,"y":8},{"k":5,"x":16.81,"y":12},{"k":5,"x":17.14,"y":15},
{"k":6,"x":3.85,"y":25000},{"k":6,"x":4.1,"y":1600},{"k":6,"x":3.95,"y":600},{"k":6,"x":4.18,"y":450},{"k":6,"x":3.8,"y":300},{"k":6,"x":4.03,"y":280},{"k":6,"x":4.12,"y":200},{"k":6,"x":3.9,"y":80},
{"k":6,"x":4.85,"y":31000},{"k":6,"x":5.1,"y":29000},{"k":6,"x":4.95,"y":25000},{"k":6,"x":5.18,"y":15000},{"k":6,"x":4.8,"y":10000},{"k":6,"x":5.03,"y":8000},{"k":6,"x":5.12,"y":4000},{"k":6,"x":4.9,"y":1200},{"k":6,"x":5.07,"y":900},{"k":6,"x":4.83,"y":500},{"k":6,"x":5.15,"y":300},{"k":6,"x":4.98,"y":250},{"k":6,"x":5.2,"y":200},{"k":6,"x":4.88,"y":150},{"k":6,"x":5.05,"y":100},{"k":6,"x":4.92,"y":80},{"k":6,"x":5.16,"y":40},
{"k":6,"x":5.85,"y":31000},{"k":6,"x":6.1,"y":30000},{"k":6,"x":5.95,"y":29500},{"k":6,"x":6.18,"y":30500},{"k":6,"x":5.8,"y":29000},{"k":6,"x":6.03,"y":25000},{"k":6,"x":6.12,"y":20000},{"k":6,"x":5.9,"y":15000},{"k":6,"x":6.07,"y":14000},{"k":6,"x":5.83,"y":1700},{"k":6,"x":6.15,"y":900},{"k":6,"x":5.98,"y":500},{"k":6,"x":6.2,"y":250},{"k":6,"x":5.88,"y":200},{"k":6,"x":6.05,"y":150},{"k":6,"x":5.92,"y":130},
{"k":6,"x":6.85,"y":31000},{"k":6,"x":7.1,"y":30000},{"k":6,"x":6.95,"y":29500},{"k":6,"x":7.18,"y":30500},{"k":6,"x":6.8,"y":29000},{"k":6,"x":7.03,"y":28500},{"k":6,"x":7.12,"y":27000},{"k":6,"x":6.9,"y":10000},{"k":6,"x":7.07,"y":3000},{"k":6,"x":6.83,"y":2700},{"k":6,"x":7.15,"y":350},{"k":6,"x":6.98,"y":250},{"k":6,"x":7.2,"y":200},{"k":6,"x":6.88,"y":100},{"k":6,"x":7.05,"y":90},{"k":6,"x":6.92,"y":80},
{"k":6,"x":7.85,"y":31000},{"k":6,"x":8.1,"y":30000},{"k":6,"x":7.95,"y":29500},{"k":6,"x":8.18,"y":30500},{"k":6,"x":7.8,"y":27000},{"k":6,"x":8.03,"y":12000},{"k":6,"x":8.12,"y":8000},{"k":6,"x":7.9,"y":100},{"k":6,"x":8.07,"y":80},
{"k":6,"x":8.85,"y":31000},{"k":6,"x":9.1,"y":30000},{"k":6,"x":8.95,"y":29500},{"k":6,"x":9.18,"y":30500},{"k":6,"x":8.8,"y":29000},{"k":6,"x":9.03,"y":28500},{"k":6,"x":9.12,"y":28000},{"k":6,"x":8.9,"y":25000},{"k":6,"x":9.07,"y":20000},{"k":6,"x":8.83,"y":8000},{"k":6,"x":9.15,"y":3000},{"k":6,"x":8.98,"y":1500},{"k":6,"x":9.2,"y":900},{"k":6,"x":8.88,"y":700},{"k":6,"x":9.05,"y":600},{"k":6,"x":8.92,"y":300},{"k":6,"x":9.16,"y":250},{"k":6,"x":8.82,"y":100},{"k":6,"x":9,"y":60},
{"k":6,"x":9.85,"y":31000},{"k":6,"x":10.1,"y":30000},{"k":6,"x":9.95,"y":29500},{"k":6,"x":10.18,"y":30500},{"k":6,"x":9.8,"y":29000},{"k":6,"x":10.03,"y":28500},{"k":6,"x":10.12,"y":29800},{"k":6,"x":9.9,"y":25000},{"k":6,"x":10.07,"y":20000},{"k":6,"x":9.83,"y":4500},{"k":6,"x":10.15,"y":160},
{"k":6,"x":10.85,"y":31000},{"k":6,"x":11.1,"y":30000},{"k":6,"x":10.95,"y":29500},{"k":6,"x":11.18,"y":30500},{"k":6,"x":10.8,"y":27000},{"k":6,"x":11.03,"y":6000},{"k":6,"x":11.12,"y":3500},{"k":6,"x":10.9,"y":3000},{"k":6,"x":11.07,"y":1300},{"k":6,"x":10.83,"y":600},{"k":6,"x":11.15,"y":300},
{"k":6,"x":11.85,"y":31000},{"k":6,"x":12.1,"y":30000},{"k":6,"x":11.95,"y":29500},{"k":6,"x":12.18,"y":30500},{"k":6,"x":11.8,"y":27000},{"k":6,"x":12.03,"y":7000},{"k":6,"x":12.12,"y":2000},{"k":6,"x":11.9,"y":700},{"k":6,"x":12.07,"y":80},
{"k":6,"x":12.85,"y":31000},{"k":6,"x":13.1,"y":30000},{"k":6,"x":12.95,"y":29500},{"k":6,"x":13.18,"y":30500},{"k":6,"x":12.8,"y":24000},{"k":6,"x":13.03,"y":6000},{"k":6,"x":13.12,"y":5500},{"k":6,"x":12.9,"y":100},
{"k":6,"x":13.85,"y":31000},{"k":6,"x":14.1,"y":30000},{"k":6,"x":13.95,"y":29500},{"k":6,"x":14.18,"y":30500},{"k":6,"x":13.8,"y":29000},{"k":6,"x":14.03,"y":28500},{"k":6,"x":14.12,"y":28000},{"k":6,"x":13.9,"y":18000},{"k":6,"x":14.07,"y":6000},{"k":6,"x":13.83,"y":5000},
{"k":6,"x":14.85,"y":31000},{"k":6,"x":15.1,"y":30000},{"k":6,"x":14.95,"y":29500},{"k":6,"x":15.18,"y":30500},{"k":6,"x":14.8,"y":27000},{"k":6,"x":15.03,"y":25000},{"k":6,"x":15.12,"y":18000},
{"k":6,"x":15.85,"y":31000},{"k":6,"x":16.1,"y":30000},{"k":6,"x":15.95,"y":29500},{"k":6,"x":16.18,"y":30500},{"k":6,"x":15.8,"y":29000},{"k":6,"x":16.03,"y":28000},{"k":6,"x":16.12,"y":25000},{"k":6,"x":15.9,"y":22000},{"k":6,"x":16.07,"y":4000},{"k":6,"x":15.83,"y":3000},{"k":6,"x":16.15,"y":2000},{"k":6,"x":15.98,"y":400},
{"k":6,"x":16.85,"y":31000},{"k":6,"x":17.1,"y":30000},{"k":6,"x":16.95,"y":29500},{"k":6,"x":17.18,"y":30500},{"k":6,"x":16.8,"y":29000},{"k":6,"x":17.03,"y":28500},{"k":6,"x":17.12,"y":30200},{"k":6,"x":16.9,"y":29700},{"k":6,"x":17.07,"y":28000},
{"k":6,"x":4.87,"y":30000},{"k":6,"x":5.08,"y":29800},{"k":6,"x":4.81,"y":30800},{"k":6,"x":5.14,"y":29200},
{"k":6,"x":5.87,"y":30000},{"k":6,"x":6.08,"y":29800},{"k":6,"x":5.81,"y":30800},{"k":6,"x":6.14,"y":29200},
{"k":6,"x":6.87,"y":30000},{"k":6,"x":7.08,"y":29800},{"k":6,"x":6.81,"y":30800},{"k":6,"x":7.14,"y":29200},
{"k":6,"x":7.87,"y":30000},{"k":6,"x":8.08,"y":29800},{"k":6,"x":7.81,"y":30800},{"k":6,"x":8.14,"y":29200},
{"k":6,"x":8.87,"y":30000},{"k":6,"x":9.08,"y":29800},{"k":6,"x":8.81,"y":30800},{"k":6,"x":9.14,"y":29200},
{"k":6,"x":9.87,"y":30000},{"k":6,"x":10.08,"y":29800},{"k":6,"x":9.81,"y":30800},{"k":6,"x":10.14,"y":29200},
{"k":6,"x":10.87,"y":30000},{"k":6,"x":11.08,"y":29800},{"k":6,"x":10.81,"y":30800},{"k":6,"x":11.14,"y":29200},
{"k":6,"x":11.87,"y":30000},{"k":6,"x":12.08,"y":29800},{"k":6,"x":11.81,"y":30800},{"k":6,"x":12.14,"y":29200},
{"k":6,"x":12.87,"y":30000},{"k":6,"x":13.08,"y":29800},{"k":6,"x":12.81,"y":30800},{"k":6,"x":13.14,"y":29200},
{"k":6,"x":13.87,"y":30000},{"k":6,"x":14.08,"y":29800},{"k":6,"x":13.81,"y":30800},{"k":6,"x":14.14,"y":29200},
{"k":6,"x":14.87,"y":30000},{"k":6,"x":15.08,"y":29800},{"k":6,"x":14.81,"y":30800},{"k":6,"x":15.14,"y":29200},
{"k":6,"x":15.87,"y":30000},{"k":6,"x":16.08,"y":29800},{"k":6,"x":15.81,"y":30800},{"k":6,"x":16.14,"y":29200},
{"k":6,"x":16.87,"y":30000},{"k":6,"x":17.08,"y":29800},{"k":6,"x":16.81,"y":30800},{"k":6,"x":17.14,"y":29200},
{"k":7,"x":3.85,"y":20},{"k":7,"x":4.1,"y":15},{"k":7,"x":3.95,"y":10},{"k":7,"x":4.18,"y":8},{"k":7,"x":3.8,"y":6},{"k":7,"x":4.03,"y":6},{"k":7,"x":4.12,"y":5},
{"k":7,"x":4.85,"y":40},{"k":7,"x":5.1,"y":35},{"k":7,"x":4.95,"y":30},{"k":7,"x":5.18,"y":20},{"k":7,"x":4.8,"y":15},{"k":7,"x":5.03,"y":14},{"k":7,"x":5.12,"y":12},{"k":7,"x":4.9,"y":10},{"k":7,"x":5.07,"y":8},{"k":7,"x":4.83,"y":6},{"k":7,"x":5.15,"y":4},{"k":7,"x":4.98,"y":3},{"k":7,"x":5.2,"y":3},
{"k":7,"x":5.85,"y":5000},{"k":7,"x":6.1,"y":27},{"k":7,"x":5.95,"y":20},{"k":7,"x":6.18,"y":12},{"k":7,"x":5.8,"y":10},{"k":7,"x":6.03,"y":8},{"k":7,"x":6.12,"y":6},{"k":7,"x":5.9,"y":5},{"k":7,"x":6.07,"y":4},{"k":7,"x":5.83,"y":2},
{"k":7,"x":6.85,"y":22},{"k":7,"x":7.1,"y":15},{"k":7,"x":6.95,"y":10},{"k":7,"x":7.18,"y":8},{"k":7,"x":6.8,"y":6},{"k":7,"x":7.03,"y":5},{"k":7,"x":7.12,"y":4},{"k":7,"x":6.9,"y":3},{"k":7,"x":7.07,"y":2},{"k":7,"x":6.83,"y":1},
{"k":7,"x":7.85,"y":60},{"k":7,"x":8.1,"y":20},{"k":7,"x":7.95,"y":10},{"k":7,"x":8.18,"y":8},{"k":7,"x":7.8,"y":6},{"k":7,"x":8.03,"y":5},{"k":7,"x":8.12,"y":4},{"k":7,"x":7.9,"y":3},{"k":7,"x":8.07,"y":2},
{"k":7,"x":8.85,"y":330},{"k":7,"x":9.1,"y":85},{"k":7,"x":8.95,"y":40},{"k":7,"x":9.18,"y":25},{"k":7,"x":8.8,"y":20},{"k":7,"x":9.03,"y":15},{"k":7,"x":9.12,"y":10},{"k":7,"x":8.9,"y":8},{"k":7,"x":9.07,"y":6},{"k":7,"x":8.83,"y":5},{"k":7,"x":9.15,"y":4},{"k":7,"x":8.98,"y":3},{"k":7,"x":9.2,"y":3},{"k":7,"x":8.88,"y":2},
{"k":7,"x":9.85,"y":1100},{"k":7,"x":10.1,"y":25},{"k":7,"x":9.95,"y":12},{"k":7,"x":10.18,"y":10},{"k":7,"x":9.8,"y":8},{"k":7,"x":10.03,"y":6},{"k":7,"x":10.12,"y":5},{"k":7,"x":9.9,"y":4},{"k":7,"x":10.07,"y":3},{"k":7,"x":9.83,"y":2},
{"k":7,"x":10.85,"y":1100},{"k":7,"x":11.1,"y":160},{"k":7,"x":10.95,"y":55},{"k":7,"x":11.18,"y":25},{"k":7,"x":10.8,"y":20},{"k":7,"x":11.03,"y":10},{"k":7,"x":11.12,"y":8},{"k":7,"x":10.9,"y":6},{"k":7,"x":11.07,"y":5},{"k":7,"x":10.83,"y":4},{"k":7,"x":11.15,"y":3},{"k":7,"x":10.98,"y":2},
{"k":7,"x":11.85,"y":120},{"k":7,"x":12.1,"y":65},{"k":7,"x":11.95,"y":20},{"k":7,"x":12.18,"y":18},{"k":7,"x":11.8,"y":10},{"k":7,"x":12.03,"y":8},{"k":7,"x":12.12,"y":6},{"k":7,"x":11.9,"y":5},{"k":7,"x":12.07,"y":4},{"k":7,"x":11.83,"y":3},
{"k":7,"x":12.85,"y":600},{"k":7,"x":13.1,"y":520},{"k":7,"x":12.95,"y":110},{"k":7,"x":13.18,"y":80},{"k":7,"x":12.8,"y":40},{"k":7,"x":13.03,"y":30},{"k":7,"x":13.12,"y":20},{"k":7,"x":12.9,"y":15},{"k":7,"x":13.07,"y":10},{"k":7,"x":12.83,"y":8},{"k":7,"x":13.15,"y":6},{"k":7,"x":12.98,"y":5},{"k":7,"x":13.2,"y":4},{"k":7,"x":12.88,"y":3},{"k":7,"x":13.05,"y":2},
{"k":7,"x":13.85,"y":1100},{"k":7,"x":14.1,"y":40},{"k":7,"x":13.95,"y":25},{"k":7,"x":14.18,"y":18},{"k":7,"x":13.8,"y":15},{"k":7,"x":14.03,"y":10},{"k":7,"x":14.12,"y":8},{"k":7,"x":13.9,"y":6},{"k":7,"x":14.07,"y":5},{"k":7,"x":13.83,"y":4},{"k":7,"x":14.15,"y":3},
{"k":7,"x":14.85,"y":90},{"k":7,"x":15.1,"y":55},{"k":7,"x":14.95,"y":50},{"k":7,"x":15.18,"y":20},{"k":7,"x":14.8,"y":15},{"k":7,"x":15.03,"y":12},{"k":7,"x":15.12,"y":10},{"k":7,"x":14.9,"y":8},{"k":7,"x":15.07,"y":6},{"k":7,"x":14.83,"y":5},{"k":7,"x":15.15,"y":4},{"k":7,"x":14.98,"y":3},
{"k":7,"x":15.85,"y":17000},{"k":7,"x":16.1,"y":190},{"k":7,"x":15.95,"y":130},{"k":7,"x":16.18,"y":95},{"k":7,"x":15.8,"y":40},{"k":7,"x":16.03,"y":38},{"k":7,"x":16.12,"y":15},{"k":7,"x":15.9,"y":10},{"k":7,"x":16.07,"y":8},{"k":7,"x":15.83,"y":6},{"k":7,"x":16.15,"y":5},{"k":7,"x":15.98,"y":4},{"k":7,"x":16.2,"y":2},
{"k":7,"x":16.85,"y":70},{"k":7,"x":17.1,"y":60},{"k":7,"x":16.95,"y":12},{"k":7,"x":17.18,"y":10},{"k":7,"x":16.8,"y":8},{"k":7,"x":17.03,"y":6},{"k":7,"x":17.12,"y":5},{"k":7,"x":16.9,"y":4},{"k":7,"x":17.07,"y":3},{"k":7,"x":16.83,"y":1},
{"k":7,"x":3.87,"y":6},{"k":7,"x":4.08,"y":5},{"k":7,"x":3.81,"y":8},
{"k":7,"x":4.87,"y":6},{"k":7,"x":5.08,"y":5},{"k":7,"x":4.81,"y":8},{"k":7,"x":5.14,"y":10},
{"k":7,"x":5.87,"y":6},{"k":7,"x":6.08,"y":4},{"k":7,"x":5.81,"y":8},{"k":7,"x":6.14,"y":3},
{"k":7,"x":6.87,"y":5},{"k":7,"x":7.08,"y":4},{"k":7,"x":6.81,"y":3},{"k":7,"x":7.14,"y":6},
{"k":7,"x":7.87,"y":5},{"k":7,"x":8.08,"y":4},{"k":7,"x":7.81,"y":3},{"k":7,"x":8.14,"y":6},
{"k":7,"x":8.87,"y":6},{"k":7,"x":9.08,"y":5},{"k":7,"x":8.81,"y":4},{"k":7,"x":9.14,"y":8},
{"k":7,"x":9.87,"y":6},{"k":7,"x":10.08,"y":5},{"k":7,"x":9.81,"y":4},{"k":7,"x":10.14,"y":3},
{"k":7,"x":10.87,"y":6},{"k":7,"x":11.08,"y":5},{"k":7,"x":10.81,"y":4},{"k":7,"x":11.14,"y":8},
{"k":7,"x":11.87,"y":6},{"k":7,"x":12.08,"y":5},{"k":7,"x":11.81,"y":8},{"k":7,"x":12.14,"y":10},
{"k":7,"x":12.87,"y":8},{"k":7,"x":13.08,"y":6},{"k":7,"x":12.81,"y":5},{"k":7,"x":13.14,"y":10},
{"k":7,"x":13.87,"y":8},{"k":7,"x":14.08,"y":6},{"k":7,"x":13.81,"y":10},{"k":7,"x":14.14,"y":12},
{"k":7,"x":14.87,"y":8},{"k":7,"x":15.08,"y":6},{"k":7,"x":14.81,"y":10},{"k":7,"x":15.14,"y":5},
{"k":7,"x":15.87,"y":8},{"k":7,"x":16.08,"y":6},{"k":7,"x":15.81,"y":10},{"k":7,"x":16.14,"y":5},
{"k":7,"x":16.87,"y":6},{"k":7,"x":17.08,"y":5},{"k":7,"x":16.81,"y":8},{"k":7,"x":17.14,"y":10},
{"k":8,"x":3.85,"y":18},{"k":8,"x":4.1,"y":12},{"k":8,"x":3.95,"y":10},{"k":8,"x":4.18,"y":8},{"k":8,"x":3.8,"y":6},{"k":8,"x":4.03,"y":5},{"k":8,"x":4.12,"y":2},{"k":8,"x":3.9,"y":2},
{"k":8,"x":4.85,"y":33},{"k":8,"x":5.1,"y":15},{"k":8,"x":4.95,"y":12},{"k":8,"x":5.18,"y":10},{"k":8,"x":4.8,"y":8},{"k":8,"x":5.03,"y":7},{"k":8,"x":5.12,"y":6},{"k":8,"x":4.9,"y":5},{"k":8,"x":5.07,"y":4},{"k":8,"x":4.83,"y":3},
{"k":8,"x":5.85,"y":25},{"k":8,"x":6.1,"y":15},{"k":8,"x":5.95,"y":12},{"k":8,"x":6.18,"y":10},{"k":8,"x":5.8,"y":8},{"k":8,"x":6.03,"y":6},{"k":8,"x":6.12,"y":5},{"k":8,"x":5.9,"y":4},{"k":8,"x":6.07,"y":3},
{"k":8,"x":6.85,"y":20},{"k":8,"x":7.1,"y":12},{"k":8,"x":6.95,"y":10},{"k":8,"x":7.18,"y":8},{"k":8,"x":6.8,"y":6},{"k":8,"x":7.03,"y":5},{"k":8,"x":7.12,"y":4},{"k":8,"x":6.9,"y":3},{"k":8,"x":7.07,"y":2},
{"k":8,"x":7.85,"y":8},{"k":8,"x":8.1,"y":7},{"k":8,"x":7.95,"y":6},{"k":8,"x":8.18,"y":5},{"k":8,"x":7.8,"y":4},{"k":8,"x":8.03,"y":3},
{"k":8,"x":8.85,"y":30},{"k":8,"x":9.1,"y":20},{"k":8,"x":8.95,"y":12},{"k":8,"x":9.18,"y":8},{"k":8,"x":8.8,"y":6},{"k":8,"x":9.03,"y":5},{"k":8,"x":9.12,"y":4},{"k":8,"x":8.9,"y":3},{"k":8,"x":9.07,"y":3},{"k":8,"x":8.83,"y":1},
{"k":8,"x":9.85,"y":15},{"k":8,"x":10.1,"y":12},{"k":8,"x":9.95,"y":10},{"k":8,"x":10.18,"y":8},{"k":8,"x":9.8,"y":6},{"k":8,"x":10.03,"y":5},{"k":8,"x":10.12,"y":4},{"k":8,"x":9.9,"y":3},{"k":8,"x":10.07,"y":2},
{"k":8,"x":10.85,"y":140},{"k":8,"x":11.1,"y":30},{"k":8,"x":10.95,"y":25},{"k":8,"x":11.18,"y":18},{"k":8,"x":10.8,"y":12},{"k":8,"x":11.03,"y":8},{"k":8,"x":11.12,"y":6},{"k":8,"x":10.9,"y":5},{"k":8,"x":11.07,"y":4},{"k":8,"x":10.83,"y":2},
{"k":8,"x":11.85,"y":22},{"k":8,"x":12.1,"y":10},{"k":8,"x":11.95,"y":8},{"k":8,"x":12.18,"y":6},{"k":8,"x":11.8,"y":5},{"k":8,"x":12.03,"y":4},{"k":8,"x":12.12,"y":3},
{"k":8,"x":12.85,"y":16},{"k":8,"x":13.1,"y":13},{"k":8,"x":12.95,"y":10},{"k":8,"x":13.18,"y":8},{"k":8,"x":12.8,"y":6},{"k":8,"x":13.03,"y":5},{"k":8,"x":13.12,"y":4},{"k":8,"x":12.9,"y":3},{"k":8,"x":13.07,"y":2},
{"k":8,"x":13.85,"y":35},{"k":8,"x":14.1,"y":17},{"k":8,"x":13.95,"y":12},{"k":8,"x":14.18,"y":10},{"k":8,"x":13.8,"y":8},{"k":8,"x":14.03,"y":6},{"k":8,"x":14.12,"y":5},{"k":8,"x":13.9,"y":4},
{"k":8,"x":14.85,"y":20},{"k":8,"x":15.1,"y":17},{"k":8,"x":14.95,"y":12},{"k":8,"x":15.18,"y":10},{"k":8,"x":14.8,"y":8},{"k":8,"x":15.03,"y":6},{"k":8,"x":15.12,"y":5},{"k":8,"x":14.9,"y":4},{"k":8,"x":15.07,"y":3},
{"k":8,"x":15.85,"y":300},{"k":8,"x":16.1,"y":170},{"k":8,"x":15.95,"y":140},{"k":8,"x":16.18,"y":14},{"k":8,"x":15.8,"y":12},{"k":8,"x":16.03,"y":10},{"k":8,"x":16.12,"y":8},{"k":8,"x":15.9,"y":6},{"k":8,"x":16.07,"y":5},{"k":8,"x":15.83,"y":4},{"k":8,"x":16.15,"y":3},
{"k":8,"x":16.85,"y":1900},{"k":8,"x":17.1,"y":12},{"k":8,"x":16.95,"y":10},{"k":8,"x":17.18,"y":8},{"k":8,"x":16.8,"y":6},{"k":8,"x":17.03,"y":6},{"k":8,"x":17.12,"y":5},{"k":8,"x":16.9,"y":3},
{"k":8,"x":3.87,"y":6},{"k":8,"x":4.08,"y":5},{"k":8,"x":3.81,"y":4},
{"k":8,"x":4.87,"y":6},{"k":8,"x":5.08,"y":5},{"k":8,"x":4.81,"y":8},{"k":8,"x":5.14,"y":4},
{"k":8,"x":5.87,"y":6},{"k":8,"x":6.08,"y":5},{"k":8,"x":5.81,"y":8},{"k":8,"x":6.14,"y":4},
{"k":8,"x":6.87,"y":6},{"k":8,"x":7.08,"y":5},{"k":8,"x":6.81,"y":4},{"k":8,"x":7.14,"y":3},
{"k":8,"x":7.87,"y":5},{"k":8,"x":8.08,"y":4},{"k":8,"x":7.81,"y":6},{"k":8,"x":8.14,"y":3},
{"k":8,"x":8.87,"y":5},{"k":8,"x":9.08,"y":4},{"k":8,"x":8.81,"y":6},{"k":8,"x":9.14,"y":3},
{"k":8,"x":9.87,"y":6},{"k":8,"x":10.08,"y":5},{"k":8,"x":9.81,"y":4},{"k":8,"x":10.14,"y":8},
{"k":8,"x":10.87,"y":6},{"k":8,"x":11.08,"y":5},{"k":8,"x":10.81,"y":8},{"k":8,"x":11.14,"y":10},
{"k":8,"x":11.87,"y":6},{"k":8,"x":12.08,"y":5},{"k":8,"x":11.81,"y":8},{"k":8,"x":12.14,"y":4},
{"k":8,"x":12.87,"y":6},{"k":8,"x":13.08,"y":5},{"k":8,"x":12.81,"y":8},{"k":8,"x":13.14,"y":4},
{"k":8,"x":13.87,"y":6},{"k":8,"x":14.08,"y":5},{"k":8,"x":13.81,"y":8},{"k":8,"x":14.14,"y":4},
{"k":8,"x":14.87,"y":6},{"k":8,"x":15.08,"y":5},{"k":8,"x":14.81,"y":8},{"k":8,"x":15.14,"y":10},
{"k":8,"x":15.87,"y":6},{"k":8,"x":16.08,"y":5},{"k":8,"x":15.81,"y":8},{"k":8,"x":16.14,"y":10},
{"k":8,"x":16.87,"y":6},{"k":8,"x":17.08,"y":5},{"k":8,"x":16.81,"y":8},{"k":8,"x":17.14,"y":4},
{"k":9,"x":3.85,"y":22000},{"k":9,"x":4.1,"y":3700},{"k":9,"x":3.95,"y":1300},{"k":9,"x":4.18,"y":850},{"k":9,"x":3.8,"y":750},{"k":9,"x":4.03,"y":150},{"k":9,"x":4.12,"y":130},{"k":9,"x":3.9,"y":55},{"k":9,"x":4.07,"y":35},{"k":9,"x":3.83,"y":22},{"k":9,"x":4.15,"y":16},{"k":9,"x":3.98,"y":12},
{"k":9,"x":4.85,"y":22000},{"k":9,"x":5.1,"y":10000},{"k":9,"x":4.95,"y":6000},{"k":9,"x":5.18,"y":5000},{"k":9,"x":4.8,"y":2500},{"k":9,"x":5.03,"y":1300},{"k":9,"x":5.12,"y":700},{"k":9,"x":4.9,"y":500},{"k":9,"x":5.07,"y":450},{"k":9,"x":4.83,"y":200},{"k":9,"x":5.15,"y":100},{"k":9,"x":4.98,"y":70},{"k":9,"x":5.2,"y":60},{"k":9,"x":4.88,"y":30},{"k":9,"x":5.05,"y":28},{"k":9,"x":4.92,"y":20},{"k":9,"x":5.16,"y":12},{"k":9,"x":4.82,"y":11},{"k":9,"x":5,"y":7},
{"k":9,"x":5.85,"y":19000},{"k":9,"x":6.1,"y":17000},{"k":9,"x":5.95,"y":5500},{"k":9,"x":6.18,"y":5000},{"k":9,"x":5.8,"y":2800},{"k":9,"x":6.03,"y":2500},{"k":9,"x":6.12,"y":1800},{"k":9,"x":5.9,"y":1500},{"k":9,"x":6.07,"y":1000},{"k":9,"x":5.83,"y":700},{"k":9,"x":6.15,"y":400},{"k":9,"x":5.98,"y":220},{"k":9,"x":6.2,"y":150},{"k":9,"x":5.88,"y":60},{"k":9,"x":6.05,"y":18},{"k":9,"x":5.92,"y":5},
{"k":9,"x":6.85,"y":27000},{"k":9,"x":7.1,"y":24000},{"k":9,"x":6.95,"y":20000},{"k":9,"x":7.18,"y":18000},{"k":9,"x":6.8,"y":12000},{"k":9,"x":7.03,"y":8000},{"k":9,"x":7.12,"y":5000},{"k":9,"x":6.9,"y":3000},{"k":9,"x":7.07,"y":2000},{"k":9,"x":6.83,"y":1000},{"k":9,"x":7.15,"y":600},{"k":9,"x":6.98,"y":170},{"k":9,"x":7.2,"y":130},{"k":9,"x":6.88,"y":120},{"k":9,"x":7.05,"y":110},{"k":9,"x":6.92,"y":60},{"k":9,"x":7.16,"y":25},{"k":9,"x":6.82,"y":11},
{"k":9,"x":7.85,"y":29000},{"k":9,"x":8.1,"y":24000},{"k":9,"x":7.95,"y":15000},{"k":9,"x":8.18,"y":12000},{"k":9,"x":7.8,"y":7000},{"k":9,"x":8.03,"y":5000},{"k":9,"x":8.12,"y":3000},{"k":9,"x":7.9,"y":2000},{"k":9,"x":8.07,"y":1000},{"k":9,"x":7.83,"y":900},{"k":9,"x":8.15,"y":120},{"k":9,"x":7.98,"y":45},
{"k":9,"x":8.85,"y":27000},{"k":9,"x":9.1,"y":24000},{"k":9,"x":8.95,"y":15000},{"k":9,"x":9.18,"y":14000},{"k":9,"x":8.8,"y":8000},{"k":9,"x":9.03,"y":7000},{"k":9,"x":9.12,"y":6000},{"k":9,"x":8.9,"y":3000},{"k":9,"x":9.07,"y":2000},{"k":9,"x":8.83,"y":600},{"k":9,"x":9.15,"y":500},{"k":9,"x":8.98,"y":350},{"k":9,"x":9.2,"y":200},{"k":9,"x":8.88,"y":150},{"k":9,"x":9.05,"y":90},{"k":9,"x":8.92,"y":70},{"k":9,"x":9.16,"y":11},
{"k":9,"x":9.85,"y":28000},{"k":9,"x":10.1,"y":25000},{"k":9,"x":9.95,"y":22000},{"k":9,"x":10.18,"y":20000},{"k":9,"x":9.8,"y":17000},{"k":9,"x":10.03,"y":14000},{"k":9,"x":10.12,"y":10000},{"k":9,"x":9.9,"y":8000},{"k":9,"x":10.07,"y":6000},{"k":9,"x":9.83,"y":3500},{"k":9,"x":10.15,"y":2500},{"k":9,"x":9.98,"y":1300},{"k":9,"x":10.2,"y":1200},{"k":9,"x":9.88,"y":1100},{"k":9,"x":10.05,"y":850},{"k":9,"x":9.92,"y":60},
{"k":9,"x":10.85,"y":29000},{"k":9,"x":11.1,"y":25000},{"k":9,"x":10.95,"y":15000},{"k":9,"x":11.18,"y":8000},{"k":9,"x":10.8,"y":4000},{"k":9,"x":11.03,"y":2000},{"k":9,"x":11.12,"y":1800},{"k":9,"x":10.9,"y":1000},{"k":9,"x":11.07,"y":800},
{"k":9,"x":11.85,"y":24000},{"k":9,"x":12.1,"y":20000},{"k":9,"x":11.95,"y":12000},{"k":9,"x":12.18,"y":9000},{"k":9,"x":11.8,"y":6000},{"k":9,"x":12.03,"y":4000},{"k":9,"x":12.12,"y":3000},{"k":9,"x":11.9,"y":1500},{"k":9,"x":12.07,"y":1000},{"k":9,"x":11.83,"y":650},{"k":9,"x":12.15,"y":250},
{"k":9,"x":12.85,"y":27000},{"k":9,"x":13.1,"y":25000},{"k":9,"x":12.95,"y":20000},{"k":9,"x":13.18,"y":14000},{"k":9,"x":12.8,"y":8000},{"k":9,"x":13.03,"y":6000},{"k":9,"x":13.12,"y":3000},{"k":9,"x":12.9,"y":2000},{"k":9,"x":13.07,"y":1200},{"k":9,"x":12.83,"y":750},{"k":9,"x":13.15,"y":700},{"k":9,"x":12.98,"y":75},
{"k":9,"x":13.85,"y":25000},{"k":9,"x":14.1,"y":24000},{"k":9,"x":13.95,"y":17000},{"k":9,"x":14.18,"y":12000},{"k":9,"x":13.8,"y":9000},{"k":9,"x":14.03,"y":6000},{"k":9,"x":14.12,"y":4000},{"k":9,"x":13.9,"y":2500},{"k":9,"x":14.07,"y":1500},{"k":9,"x":13.83,"y":1100},{"k":9,"x":14.15,"y":550},
{"k":9,"x":14.85,"y":27000},{"k":9,"x":15.1,"y":24000},{"k":9,"x":14.95,"y":13000},{"k":9,"x":15.18,"y":8000},{"k":9,"x":14.8,"y":5000},{"k":9,"x":15.03,"y":3000},{"k":9,"x":15.12,"y":2000},{"k":9,"x":14.9,"y":1500},{"k":9,"x":15.07,"y":520},
{"k":9,"x":15.85,"y":25000},{"k":9,"x":16.1,"y":24000},{"k":9,"x":15.95,"y":14000},{"k":9,"x":16.18,"y":10000},{"k":9,"x":15.8,"y":6000},{"k":9,"x":16.03,"y":4500},{"k":9,"x":16.12,"y":3000},{"k":9,"x":15.9,"y":2000},{"k":9,"x":16.07,"y":1500},{"k":9,"x":15.83,"y":1000},{"k":9,"x":16.15,"y":950},
{"k":9,"x":16.85,"y":28000},{"k":9,"x":17.1,"y":20000},{"k":9,"x":16.95,"y":14000},{"k":9,"x":17.18,"y":9000},{"k":9,"x":16.8,"y":7000},{"k":9,"x":17.03,"y":3000},{"k":9,"x":17.12,"y":2000},{"k":9,"x":16.9,"y":1500},{"k":9,"x":17.07,"y":800},{"k":9,"x":16.83,"y":700},{"k":9,"x":17.15,"y":300},{"k":9,"x":16.98,"y":90},
{"k":9,"x":3.87,"y":3000},{"k":9,"x":4.08,"y":50},
{"k":9,"x":4.87,"y":40},{"k":9,"x":5.08,"y":15},{"k":9,"x":4.81,"y":3000},
{"k":9,"x":5.87,"y":3000},{"k":9,"x":6.08,"y":8000},
{"k":9,"x":6.87,"y":25000},{"k":9,"x":7.08,"y":26000},{"k":9,"x":6.81,"y":15000},
{"k":9,"x":7.87,"y":27000},{"k":9,"x":8.08,"y":20000},{"k":9,"x":7.81,"y":10000},
{"k":9,"x":8.87,"y":26000},{"k":9,"x":9.08,"y":25000},{"k":9,"x":8.81,"y":10000},
{"k":9,"x":9.87,"y":26000},{"k":9,"x":10.08,"y":24000},{"k":9,"x":9.81,"y":27000},
{"k":9,"x":10.87,"y":27000},{"k":9,"x":11.08,"y":20000},{"k":9,"x":10.81,"y":10000},{"k":9,"x":11.14,"y":5000},
{"k":9,"x":11.87,"y":25000},{"k":9,"x":12.08,"y":15000},{"k":9,"x":11.81,"y":8000},
{"k":9,"x":12.87,"y":24000},{"k":9,"x":13.08,"y":10000},{"k":9,"x":12.81,"y":5000},
{"k":9,"x":13.87,"y":26000},{"k":9,"x":14.08,"y":20000},{"k":9,"x":13.81,"y":7000},
{"k":9,"x":14.87,"y":25000},{"k":9,"x":15.08,"y":10000},{"k":9,"x":14.81,"y":6000},{"k":9,"x":15.14,"y":3500},
{"k":9,"x":15.87,"y":26000},{"k":9,"x":16.08,"y":20000},{"k":9,"x":15.81,"y":8000},
{"k":9,"x":16.87,"y":25000},{"k":9,"x":17.08,"y":12000},{"k":9,"x":16.81,"y":5000},
{"k":10,"x":3.85,"y":25000},{"k":10,"x":4.1,"y":24000},{"k":10,"x":3.95,"y":1800},{"k":10,"x":4.18,"y":850},{"k":10,"x":3.8,"y":800},{"k":10,"x":4.03,"y":120},{"k":10,"x":4.12,"y":20},{"k":10,"x":3.9,"y":13},{"k":10,"x":4.07,"y":11},{"k":10,"x":3.83,"y":8},{"k":10,"x":4.15,"y":6},
{"k":10,"x":4.85,"y":24000},{"k":10,"x":5.1,"y":12000},{"k":10,"x":4.95,"y":5000},{"k":10,"x":5.18,"y":4500},{"k":10,"x":4.8,"y":2000},{"k":10,"x":5.03,"y":1800},{"k":10,"x":5.12,"y":700},{"k":10,"x":4.9,"y":500},{"k":10,"x":5.07,"y":200},{"k":10,"x":4.83,"y":80},{"k":10,"x":5.15,"y":50},{"k":10,"x":4.98,"y":30},{"k":10,"x":5.2,"y":25},{"k":10,"x":4.88,"y":20},{"k":10,"x":5.05,"y":18},{"k":10,"x":4.92,"y":15},{"k":10,"x":5.16,"y":14},{"k":10,"x":4.82,"y":14},{"k":10,"x":5,"y":13},
{"k":10,"x":5.85,"y":24000},{"k":10,"x":6.1,"y":22000},{"k":10,"x":5.95,"y":15000},{"k":10,"x":6.18,"y":8000},{"k":10,"x":5.8,"y":5000},{"k":10,"x":6.03,"y":3000},{"k":10,"x":6.12,"y":2000},{"k":10,"x":5.9,"y":1500},{"k":10,"x":6.07,"y":160},{"k":10,"x":5.83,"y":100},{"k":10,"x":6.15,"y":60},{"k":10,"x":5.98,"y":40},{"k":10,"x":6.2,"y":35},{"k":10,"x":5.88,"y":20},{"k":10,"x":6.05,"y":18},
{"k":10,"x":6.85,"y":28000},{"k":10,"x":7.1,"y":28500},{"k":10,"x":6.95,"y":27500},{"k":10,"x":7.18,"y":27000},{"k":10,"x":6.8,"y":25000},{"k":10,"x":7.03,"y":20000},{"k":10,"x":7.12,"y":10000},{"k":10,"x":6.9,"y":5000},{"k":10,"x":7.07,"y":2000},{"k":10,"x":6.83,"y":1200},{"k":10,"x":7.15,"y":700},{"k":10,"x":6.98,"y":500},{"k":10,"x":7.2,"y":90},{"k":10,"x":6.88,"y":35},{"k":10,"x":7.05,"y":20},{"k":10,"x":6.92,"y":15},{"k":10,"x":7.16,"y":12},{"k":10,"x":6.82,"y":8},{"k":10,"x":7,"y":5},
{"k":10,"x":7.85,"y":28000},{"k":10,"x":8.1,"y":26000},{"k":10,"x":7.95,"y":24000},{"k":10,"x":8.18,"y":22000},{"k":10,"x":7.8,"y":20000},{"k":10,"x":8.03,"y":15000},{"k":10,"x":8.12,"y":8000},{"k":10,"x":7.9,"y":5000},{"k":10,"x":8.07,"y":3000},{"k":10,"x":7.83,"y":25},{"k":10,"x":8.15,"y":10},{"k":10,"x":7.98,"y":7},
{"k":10,"x":8.85,"y":27000},{"k":10,"x":9.1,"y":27500},{"k":10,"x":8.95,"y":26500},{"k":10,"x":9.18,"y":27200},{"k":10,"x":8.8,"y":26800},{"k":10,"x":9.03,"y":25000},{"k":10,"x":9.12,"y":20000},{"k":10,"x":8.9,"y":15000},{"k":10,"x":9.07,"y":12000},{"k":10,"x":8.83,"y":8000},{"k":10,"x":9.15,"y":5000},{"k":10,"x":8.98,"y":3000},{"k":10,"x":9.2,"y":1800},{"k":10,"x":8.88,"y":1000},{"k":10,"x":9.05,"y":900},{"k":10,"x":8.92,"y":700},{"k":10,"x":9.16,"y":20},{"k":10,"x":8.82,"y":18},{"k":10,"x":9,"y":10},{"k":10,"x":9.09,"y":9},
{"k":10,"x":9.85,"y":28000},{"k":10,"x":10.1,"y":27000},{"k":10,"x":9.95,"y":25000},{"k":10,"x":10.18,"y":20000},{"k":10,"x":9.8,"y":16000},{"k":10,"x":10.03,"y":14000},{"k":10,"x":10.12,"y":10000},{"k":10,"x":9.9,"y":8000},{"k":10,"x":10.07,"y":4000},{"k":10,"x":9.83,"y":3000},{"k":10,"x":10.15,"y":1500},{"k":10,"x":9.98,"y":1200},{"k":10,"x":10.2,"y":200},{"k":10,"x":9.88,"y":150},{"k":10,"x":10.05,"y":13},
{"k":10,"x":10.85,"y":28000},{"k":10,"x":11.1,"y":25000},{"k":10,"x":10.95,"y":17000},{"k":10,"x":11.18,"y":10000},{"k":10,"x":10.8,"y":6000},{"k":10,"x":11.03,"y":3000},{"k":10,"x":11.12,"y":2000},{"k":10,"x":10.9,"y":1200},{"k":10,"x":11.07,"y":1100},
{"k":10,"x":11.85,"y":25000},{"k":10,"x":12.1,"y":24000},{"k":10,"x":11.95,"y":18000},{"k":10,"x":12.18,"y":12000},{"k":10,"x":11.8,"y":8000},{"k":10,"x":12.03,"y":5000},{"k":10,"x":12.12,"y":2200},{"k":10,"x":11.9,"y":2000},{"k":10,"x":12.07,"y":1800},{"k":10,"x":11.83,"y":160},
{"k":10,"x":12.85,"y":28000},{"k":10,"x":13.1,"y":26000},{"k":10,"x":12.95,"y":22000},{"k":10,"x":13.18,"y":15000},{"k":10,"x":12.8,"y":8000},{"k":10,"x":13.03,"y":5000},{"k":10,"x":13.12,"y":2500},{"k":10,"x":12.9,"y":2300},{"k":10,"x":13.07,"y":8},
{"k":10,"x":13.85,"y":25000},{"k":10,"x":14.1,"y":22000},{"k":10,"x":13.95,"y":20000},{"k":10,"x":14.18,"y":12000},{"k":10,"x":13.8,"y":10000},{"k":10,"x":14.03,"y":6000},{"k":10,"x":14.12,"y":4000},{"k":10,"x":13.9,"y":2000},{"k":10,"x":14.07,"y":1500},{"k":10,"x":13.83,"y":400},
{"k":10,"x":14.85,"y":28000},{"k":10,"x":15.1,"y":25000},{"k":10,"x":14.95,"y":20000},{"k":10,"x":15.18,"y":12000},{"k":10,"x":14.8,"y":8000},{"k":10,"x":15.03,"y":4000},{"k":10,"x":15.12,"y":3000},{"k":10,"x":14.9,"y":2000},{"k":10,"x":15.07,"y":1600},{"k":10,"x":14.83,"y":800},
{"k":10,"x":15.85,"y":25000},{"k":10,"x":16.1,"y":24000},{"k":10,"x":15.95,"y":12000},{"k":10,"x":16.18,"y":8000},{"k":10,"x":15.8,"y":5000},{"k":10,"x":16.03,"y":3000},{"k":10,"x":16.12,"y":2500},{"k":10,"x":15.9,"y":1500},{"k":10,"x":16.07,"y":1000},{"k":10,"x":15.83,"y":620},{"k":10,"x":16.15,"y":450},
{"k":10,"x":16.85,"y":25000},{"k":10,"x":17.1,"y":24000},{"k":10,"x":16.95,"y":15000},{"k":10,"x":17.18,"y":10000},{"k":10,"x":16.8,"y":6000},{"k":10,"x":17.03,"y":3000},{"k":10,"x":17.12,"y":2000},{"k":10,"x":16.9,"y":1500},{"k":10,"x":17.07,"y":1300},{"k":10,"x":16.83,"y":1000},{"k":10,"x":17.15,"y":480},{"k":10,"x":16.98,"y":5},
{"k":10,"x":3.87,"y":900},
{"k":10,"x":4.87,"y":20},{"k":10,"x":5.08,"y":15},{"k":10,"x":4.81,"y":3000},
{"k":10,"x":5.87,"y":25000},{"k":10,"x":6.08,"y":40},{"k":10,"x":5.81,"y":18},
{"k":10,"x":6.87,"y":28000},{"k":10,"x":7.08,"y":29000},{"k":10,"x":6.81,"y":27000},
{"k":10,"x":7.87,"y":27000},{"k":10,"x":8.08,"y":28000},{"k":10,"x":7.81,"y":25000},{"k":10,"x":8.14,"y":26000},
{"k":10,"x":8.87,"y":28000},{"k":10,"x":9.08,"y":27000},{"k":10,"x":8.81,"y":26000},{"k":10,"x":9.14,"y":27800},
{"k":10,"x":9.87,"y":28000},{"k":10,"x":10.08,"y":26000},{"k":10,"x":9.81,"y":29000},
{"k":10,"x":10.87,"y":27000},{"k":10,"x":11.08,"y":26000},{"k":10,"x":10.81,"y":20000},{"k":10,"x":11.14,"y":15000},
{"k":10,"x":11.87,"y":26000},{"k":10,"x":12.08,"y":25000},{"k":10,"x":11.81,"y":20000},{"k":10,"x":12.14,"y":10000},
{"k":10,"x":12.87,"y":27000},{"k":10,"x":13.08,"y":24000},{"k":10,"x":12.81,"y":12000},
{"k":10,"x":13.87,"y":26000},{"k":10,"x":14.08,"y":20000},{"k":10,"x":13.81,"y":8000},{"k":10,"x":14.14,"y":6000},
{"k":10,"x":14.87,"y":27000},{"k":10,"x":15.08,"y":26000},{"k":10,"x":14.81,"y":10000},{"k":10,"x":15.14,"y":5000},
{"k":10,"x":15.87,"y":25000},{"k":10,"x":16.08,"y":20000},{"k":10,"x":15.81,"y":6000},{"k":10,"x":16.14,"y":3000},
{"k":10,"x":16.87,"y":26000},{"k":10,"x":17.08,"y":20000},{"k":10,"x":16.81,"y":8000},{"k":10,"x":17.14,"y":3000},
{"k":1,"m":4,"s":4.5,"lo":2.0,"hi":11.2},{"k":1,"m":5,"s":5.5,"lo":2.6,"hi":11.0},{"k":1,"m":6,"s":6.8,"lo":3.5,"hi":10.7},{"k":1,"m":7,"s":8.7,"lo":4.9,"hi":13.2},{"k":1,"m":8,"s":11.5,"lo":6.8,"hi":17.8},{"k":1,"m":9,"s":15.1,"lo":9.1,"hi":25.1},{"k":1,"m":10,"s":20.4,"lo":12.6,"hi":35.5},{"k":1,"m":11,"s":29.5,"lo":18.2,"hi":52.5},{"k":1,"m":12,"s":43.7,"lo":26.9,"hi":79.4},{"k":1,"m":13,"s":63.1,"lo":38.0,"hi":123},{"k":1,"m":14,"s":91.2,"lo":53.7,"hi":195},{"k":1,"m":15,"s":126,"lo":69.2,"hi":288},{"k":1,"m":16,"s":175,"lo":85.1,"hi":417},{"k":1,"m":17,"s":269,"lo":120,"hi":631},
{"k":2,"m":4,"s":3.5,"lo":1.9,"hi":6.8},{"k":2,"m":5,"s":4.9,"lo":2.9,"hi":8.3},{"k":2,"m":6,"s":6.8,"lo":4.4,"hi":10.5},{"k":2,"m":7,"s":9.3,"lo":6.5,"hi":13.5},{"k":2,"m":8,"s":12.9,"lo":9.3,"hi":17.8},{"k":2,"m":9,"s":17.8,"lo":13.2,"hi":24.0},{"k":2,"m":10,"s":24.5,"lo":18.2,"hi":33.1},{"k":2,"m":11,"s":33.9,"lo":25.1,"hi":45.7},{"k":2,"m":12,"s":46.8,"lo":33.9,"hi":64.6},{"k":2,"m":13,"s":64.6,"lo":44.7,"hi":93.3},{"k":2,"m":14,"s":89.1,"lo":58.9,"hi":135},{"k":2,"m":15,"s":123,"lo":75.9,"hi":200},{"k":2,"m":16,"s":170,"lo":95.5,"hi":302},{"k":2,"m":17,"s":234,"lo":123,"hi":447},
{"k":3,"m":4,"s":49,"lo":11.2,"hi":200},{"k":3,"m":5,"s":37.2,"lo":14.8,"hi":89.1},{"k":3,"m":6,"s":35.5,"lo":17.0,"hi":72.4},{"k":3,"m":7,"s":41.7,"lo":20.9,"hi":83.2},{"k":3,"m":8,"s":55.0,"lo":27.5,"hi":110},{"k":3,"m":9,"s":83.2,"lo":41.7,"hi":174},{"k":3,"m":10,"s":135,"lo":67.6,"hi":282},{"k":3,"m":11,"s":200,"lo":102,"hi":427},{"k":3,"m":12,"s":269,"lo":141,"hi":550},{"k":3,"m":13,"s":339,"lo":174,"hi":646},{"k":3,"m":14,"s":389,"lo":200,"hi":741},{"k":3,"m":15,"s":468,"lo":229,"hi":977},{"k":3,"m":16,"s":724,"lo":324,"hi":1698},{"k":3,"m":17,"s":1230,"lo":427,"hi":3802},
{"k":4,"m":4,"s":112,"lo":20.9,"hi":646},{"k":4,"m":5,"s":53.7,"lo":20.9,"hi":214},{"k":4,"m":6,"s":40.7,"lo":18.6,"hi":97.7},{"k":4,"m":7,"s":51.3,"lo":22.4,"hi":126},{"k":4,"m":8,"s":64.6,"lo":28.2,"hi":158},{"k":4,"m":9,"s":83.2,"lo":36.3,"hi":200},{"k":4,"m":10,"s":112,"lo":51.3,"hi":282},{"k":4,"m":11,"s":141,"lo":67.6,"hi":372},{"k":4,"m":12,"s":214,"lo":95.5,"hi":525},{"k":4,"m":13,"s":363,"lo":162,"hi":851},{"k":4,"m":14,"s":407,"lo":186,"hi":977},{"k":4,"m":15,"s":407,"lo":186,"hi":977},{"k":4,"m":16,"s":676,"lo":324,"hi":1479},{"k":4,"m":17,"s":1820,"lo":741,"hi":5370},
{"k":5,"m":4,"s":18.5,"lo":13.2,"hi":26.3},{"k":5,"m":5,"s":17.8,"lo":13.8,"hi":22.9},{"k":5,"m":6,"s":17.4,"lo":14.5,"hi":20.9},{"k":5,"m":7,"s":17.0,"lo":14.5,"hi":19.9},{"k":5,"m":8,"s":16.6,"lo":14.1,"hi":19.5},{"k":5,"m":9,"s":16.3,"lo":14.0,"hi":19.0},{"k":5,"m":10,"s":16.2,"lo":13.9,"hi":18.8},{"k":5,"m":11,"s":16.2,"lo":13.9,"hi":18.8},{"k":5,"m":12,"s":16.4,"lo":14.1,"hi":19.1},{"k":5,"m":13,"s":16.8,"lo":14.4,"hi":19.6},{"k":5,"m":14,"s":17.2,"lo":14.6,"hi":20.3},{"k":5,"m":15,"s":17.7,"lo":14.8,"hi":21.3},{"k":5,"m":16,"s":18.2,"lo":14.6,"hi":22.9},{"k":5,"m":17,"s":18.7,"lo":13.5,"hi":26.3},
{"k":6,"m":4,"s":1288,"lo":646,"hi":3162},{"k":6,"m":5,"s":2239,"lo":1202,"hi":4467},{"k":6,"m":6,"s":3890,"lo":2239,"hi":7244},{"k":6,"m":7,"s":6310,"lo":3890,"hi":10965},{"k":6,"m":8,"s":9550,"lo":6310,"hi":14125},{"k":6,"m":9,"s":12882,"lo":9550,"hi":17378},{"k":6,"m":10,"s":15136,"lo":12023,"hi":18621},{"k":6,"m":11,"s":16218,"lo":13183,"hi":19498},{"k":6,"m":12,"s":17378,"lo":14125,"hi":21380},{"k":6,"m":13,"s":19498,"lo":15849,"hi":23442},{"k":6,"m":14,"s":21380,"lo":17378,"hi":26303},{"k":6,"m":15,"s":22909,"lo":18621,"hi":30200},{"k":6,"m":16,"s":23442,"lo":17378,"hi":35481},{"k":6,"m":17,"s":23442,"lo":12589,"hi":42658},
{"k":7,"m":4,"s":9.6,"lo":7.1,"hi":13.0},{"k":7,"m":5,"s":8.6,"lo":6.8,"hi":10.9},{"k":7,"m":6,"s":7.8,"lo":6.4,"hi":9.5},{"k":7,"m":7,"s":7.2,"lo":6.0,"hi":8.6},{"k":7,"m":8,"s":7.0,"lo":5.9,"hi":8.3},{"k":7,"m":9,"s":7.1,"lo":6.0,"hi":8.4},{"k":7,"m":10,"s":7.7,"lo":6.5,"hi":9.1},{"k":7,"m":11,"s":8.8,"lo":7.4,"hi":10.5},{"k":7,"m":12,"s":9.8,"lo":8.3,"hi":11.6},{"k":7,"m":13,"s":10.3,"lo":8.8,"hi":12.1},{"k":7,"m":14,"s":10.4,"lo":8.9,"hi":12.2},{"k":7,"m":15,"s":10.3,"lo":8.7,"hi":12.2},{"k":7,"m":16,"s":10.0,"lo":8.3,"hi":12.1},{"k":7,"m":17,"s":9.3,"lo":7.1,"hi":12.2},
{"k":8,"m":4,"s":6.8,"lo":5.2,"hi":8.9},{"k":8,"m":5,"s":6.8,"lo":5.6,"hi":8.2},{"k":8,"m":6,"s":6.7,"lo":5.7,"hi":7.9},{"k":8,"m":7,"s":6.1,"lo":5.2,"hi":7.1},{"k":8,"m":8,"s":5.7,"lo":4.9,"hi":6.6},{"k":8,"m":9,"s":5.8,"lo":5.0,"hi":6.7},{"k":8,"m":10,"s":6.3,"lo":5.4,"hi":7.3},{"k":8,"m":11,"s":6.9,"lo":5.9,"hi":8.0},{"k":8,"m":12,"s":7.1,"lo":6.1,"hi":8.2},{"k":8,"m":13,"s":7.1,"lo":6.1,"hi":8.2},{"k":8,"m":14,"s":7.3,"lo":6.3,"hi":8.5},{"k":8,"m":15,"s":7.7,"lo":6.6,"hi":9.0},{"k":8,"m":16,"s":8.3,"lo":7.0,"hi":9.8},{"k":8,"m":17,"s":8.7,"lo":6.9,"hi":11.0},
{"k":9,"m":4,"s":166,"lo":76,"hi":417},{"k":9,"m":5,"s":447,"lo":229,"hi":955},{"k":9,"m":6,"s":955,"lo":513,"hi":1905},{"k":9,"m":7,"s":1862,"lo":1096,"hi":3311},{"k":9,"m":8,"s":3236,"lo":2188,"hi":5012},{"k":9,"m":9,"s":4677,"lo":3311,"hi":7079},{"k":9,"m":10,"s":5754,"lo":3981,"hi":8511},{"k":9,"m":11,"s":6310,"lo":4266,"hi":9550},{"k":9,"m":12,"s":6310,"lo":4266,"hi":9120},{"k":9,"m":13,"s":5888,"lo":4074,"hi":8913},{"k":9,"m":14,"s":5754,"lo":3802,"hi":8511},{"k":9,"m":15,"s":5370,"lo":3467,"hi":8318},{"k":9,"m":16,"s":5012,"lo":2884,"hi":7943},{"k":9,"m":17,"s":4677,"lo":2344,"hi":8511},
{"k":10,"m":4,"s":135,"lo":50,"hi":372},{"k":10,"m":5,"s":347,"lo":151,"hi":776},{"k":10,"m":6,"s":776,"lo":398,"hi":1660},{"k":10,"m":7,"s":1778,"lo":955,"hi":3311},{"k":10,"m":8,"s":3311,"lo":2042,"hi":5754},{"k":10,"m":9,"s":5129,"lo":3311,"hi":8511},{"k":10,"m":10,"s":7079,"lo":4677,"hi":11220},{"k":10,"m":11,"s":7943,"lo":5129,"hi":12882},{"k":10,"m":12,"s":8318,"lo":5370,"hi":13335},{"k":10,"m":13,"s":7943,"lo":5129,"hi":12882},{"k":10,"m":14,"s":7499,"lo":4786,"hi":11749},{"k":10,"m":15,"s":6607,"lo":4074,"hi":10471},{"k":10,"m":16,"s":5495,"lo":3162,"hi":9550},{"k":10,"m":17,"s":4467,"lo":2042,"hi":9772}
]},
"transform":[{"lookup":"k","from":{"data":{"values":[{"k":1,"antigen":"Giardia VSP-3"},{"k":2,"antigen":"Giardia VSP-5"},{"k":3,"antigen":"Cryptosporidium Cp17"},{"k":4,"antigen":"Cryptosporidium Cp23"},{"k":5,"antigen":"E. histolytica LecA"},{"k":6,"antigen":"ETEC LT β subunit"},{"k":7,"antigen":"Salmonella LPS group B"},{"k":8,"antigen":"Salmonella LPS group D"},{"k":9,"antigen":"Campylobacter p18"},{"k":10,"antigen":"Campylobacter p39"}]},"key":"k","fields":["antigen"]}}],
"facet":{"field":"antigen","type":"nominal","title":null,
"sort":["Giardia VSP-3","Giardia VSP-5","Cryptosporidium Cp17","Cryptosporidium Cp23","E. histolytica LecA","ETEC LT β subunit","Salmonella LPS group B","Salmonella LPS group D","Campylobacter p18","Campylobacter p39"],
"header":{"labelFontSize":21,"labelColor":"#1A1A1A","labelPadding":9,"labelFont":"Liberation Sans"}},
"columns":2,
"spacing":{"row":26.7,"column":14},
"spec":{"width":377,"height":277,
"layer":[
{"transform":[{"filter":{"field":"y","valid":true}}],
"mark":{"type":"circle","size":13,"opacity":0.62,"stroke":null},
"encoding":{
"x":{"field":"x","type":"quantitative","title":null,"scale":{"domain":[3.15,17.92],"nice":false,"zero":false},
"axis":{"values":[4,5,6,7,8,9,10,11,12,13,14,15,16,17],"labelExpr":"datum.value % 2 == 0 ? datum.label : ''","gridWidth":{"condition":{"test":"datum.value % 2 == 0","value":2.2},"value":1.1}}},
"y":{"field":"y","type":"quantitative","title":null,"scale":{"type":"log","domain":[0.5957,53088],"nice":false},
"axis":{"labelPadding":13,"values":[1,3.16227766,10,31.6227766,100,316.227766,1000,3162.27766,10000,31622.7766],"labelExpr":"datum.value == 1 ? '10⁰' : datum.value == 10 ? '10¹' : datum.value == 100 ? '10²' : datum.value == 1000 ? '10³' : datum.value == 10000 ? '10⁴' : ''","gridWidth":{"condition":{"test":"datum.value == 1 || datum.value == 10 || datum.value == 100 || datum.value == 1000 || datum.value == 10000","value":2.2},"value":1.1}}},
"color":{"field":"antigen","type":"nominal","legend":null,
"scale":{"domain":["Giardia VSP-3","Giardia VSP-5","Cryptosporidium Cp17","Cryptosporidium Cp23","E. histolytica LecA","ETEC LT β subunit","Salmonella LPS group B","Salmonella LPS group D","Campylobacter p18","Campylobacter p39"],
"range":["#E41A1C","#E41A1C","#E69F00","#E69F00","#00A087","#2F62B0","#4DAF4A","#4DAF4A","#A3229B","#A3229B"]}}}},
{"transform":[{"filter":{"field":"s","valid":true}}],
"mark":{"type":"area","color":"#999999","opacity":0.3},
"encoding":{"x":{"field":"m","type":"quantitative","title":null},"y":{"field":"lo","type":"quantitative","title":null},"y2":{"field":"hi"}}},
{"transform":[{"filter":{"field":"s","valid":true}}],
"mark":{"type":"line","color":"black","strokeWidth":1.8},
"encoding":{"x":{"field":"m","type":"quantitative","title":null},"y":{"field":"s","type":"quantitative","title":null}}}
]}
}],
"config":{"font":"Liberation Sans","view":{"stroke":null},
"title":{"fontSize":26,"fontWeight":"normal","color":"#000000","font":"Liberation Sans"},
"axis":{"domain":false,"ticks":false,"gridColor":"#EBEBEB","labelColor":"#4D4D4D","labelFontSize":20,"labelPadding":10}}
}
